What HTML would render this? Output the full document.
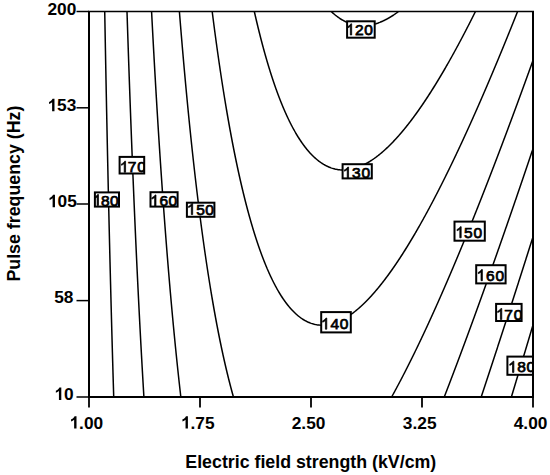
<!DOCTYPE html>
<html><head><meta charset="utf-8"><style>
html,body{margin:0;padding:0;background:#fff;}
body{width:550px;height:475px;overflow:hidden;}
svg{display:block;}
.tl{font-family:"Liberation Sans",sans-serif;font-weight:bold;font-size:17.3px;fill:#000;}
.cl{font-family:"Liberation Sans",sans-serif;font-weight:normal;font-size:15.5px;fill:#000;stroke:#000;stroke-width:0.75px;}
.ti{font-family:"Liberation Sans",sans-serif;font-weight:bold;font-size:17.8px;fill:#000;}
</style></head><body>
<svg width="550" height="475" viewBox="0 0 550 475">
<g fill="none" stroke="#000" stroke-width="1.5">
<path d="M331.22,11.50 L331.75,12.00 L332.25,12.46 L332.75,12.91 L333.25,13.35 L333.75,13.79 L334.29,14.25 L334.89,14.75 L335.50,15.25 L336.00,15.64 L336.50,16.03 L337.12,16.50 L337.75,16.96 L338.25,17.32 L338.86,17.75 L339.50,18.19 L340.00,18.52 L340.75,19.00 L341.25,19.31 L341.98,19.75 L342.50,20.05 L343.25,20.47 L343.76,20.75 L344.50,21.14 L345.22,21.50 L345.75,21.76 L346.50,22.10 L347.25,22.43 L348.00,22.75 L348.63,23.00 L349.29,23.25 L350.00,23.50 L350.75,23.76 L351.52,24.00 L352.37,24.25 L353.25,24.49 L354.00,24.67 L354.75,24.84 L355.52,25.00 L356.50,25.18 L357.25,25.30 L358.25,25.43 L359.00,25.51 L360.00,25.60 L361.00,25.67 L362.00,25.70 L363.00,25.71 L364.00,25.70 L365.00,25.66 L366.00,25.60 L367.00,25.51 L367.75,25.43 L368.75,25.30 L369.50,25.19 L370.50,25.02 L371.25,24.87 L372.00,24.72 L372.95,24.50 L373.75,24.30 L374.50,24.10 L375.25,23.89 L376.00,23.67 L376.75,23.43 L377.50,23.18 L378.25,22.92 L379.00,22.64 L379.75,22.36 L380.50,22.06 L381.25,21.75 L381.84,21.50 L382.50,21.21 L383.25,20.87 L384.00,20.52 L384.55,20.25 L385.25,19.90 L386.00,19.52 L386.52,19.25 L387.25,18.86 L387.90,18.50 L388.50,18.16 L389.22,17.75 L389.75,17.44 L390.48,17.00 L391.00,16.68 L391.70,16.25 L392.25,15.90 L392.87,15.50 L393.50,15.09 L394.00,14.75 L394.74,14.25 L395.25,13.90 L395.82,13.50 L396.50,13.01 L397.00,12.65 L397.55,12.25 L398.22,11.75 L398.55,11.50"/>
<path d="M254.32,11.50 L254.50,12.29 L254.72,13.25 L254.89,14.00 L255.06,14.75 L255.25,15.57 L255.46,16.50 L255.64,17.25 L255.81,18.00 L256.00,18.81 L256.22,19.75 L256.40,20.50 L256.57,21.25 L256.75,22.00 L256.99,23.00 L257.17,23.75 L257.35,24.50 L257.53,25.25 L257.75,26.17 L257.95,27.00 L258.13,27.75 L258.32,28.50 L258.50,29.25 L258.75,30.25 L258.93,31.00 L259.12,31.75 L259.31,32.50 L259.50,33.27 L259.75,34.25 L259.94,35.00 L260.13,35.75 L260.32,36.50 L260.51,37.25 L260.75,38.19 L260.96,39.00 L261.15,39.75 L261.35,40.50 L261.54,41.25 L261.75,42.04 L262.00,42.99 L262.20,43.75 L262.40,44.50 L262.60,45.25 L262.80,46.00 L263.00,46.75 L263.25,47.66 L263.48,48.50 L263.68,49.25 L263.89,50.00 L264.09,50.75 L264.30,51.50 L264.51,52.25 L264.75,53.11 L265.00,54.00 L265.21,54.75 L265.42,55.50 L265.64,56.25 L265.85,57.00 L266.06,57.75 L266.28,58.50 L266.50,59.26 L266.75,60.12 L267.00,60.97 L267.23,61.75 L267.45,62.50 L267.67,63.25 L267.90,64.00 L268.12,64.75 L268.35,65.50 L268.57,66.25 L268.80,67.00 L269.03,67.75 L269.26,68.50 L269.50,69.28 L269.75,70.09 L270.00,70.89 L270.25,71.69 L270.50,72.48 L270.74,73.25 L270.98,74.00 L271.22,74.75 L271.46,75.50 L271.71,76.25 L271.95,77.00 L272.20,77.75 L272.44,78.50 L272.69,79.25 L272.94,80.00 L273.19,80.75 L273.44,81.50 L273.70,82.25 L273.95,83.00 L274.21,83.75 L274.46,84.50 L274.72,85.25 L274.98,86.00 L275.25,86.75 L275.50,87.47 L275.75,88.18 L276.00,88.88 L276.25,89.58 L276.50,90.28 L276.76,91.00 L277.03,91.75 L277.31,92.50 L277.59,93.25 L277.86,94.00 L278.14,94.75 L278.43,95.50 L278.71,96.25 L278.99,97.00 L279.25,97.67 L279.50,98.32 L279.77,99.00 L280.06,99.75 L280.35,100.50 L280.65,101.25 L280.95,102.00 L281.25,102.75 L281.50,103.37 L281.75,104.00 L282.06,104.75 L282.37,105.50 L282.68,106.25 L282.99,107.00 L283.25,107.61 L283.52,108.25 L283.84,109.00 L284.16,109.75 L284.49,110.50 L284.75,111.10 L285.04,111.75 L285.37,112.50 L285.70,113.25 L286.00,113.91 L286.27,114.50 L286.61,115.25 L286.95,116.00 L287.25,116.64 L287.53,117.25 L287.89,118.00 L288.24,118.75 L288.50,119.28 L288.85,120.00 L289.21,120.75 L289.50,121.34 L289.83,122.00 L290.20,122.75 L290.50,123.34 L290.83,124.00 L291.22,124.75 L291.50,125.29 L291.87,126.00 L292.25,126.73 L292.53,127.25 L292.93,128.00 L293.25,128.59 L293.61,129.25 L294.00,129.95 L294.30,130.50 L294.73,131.25 L295.01,131.75 L295.44,132.50 L295.75,133.03 L296.17,133.75 L296.50,134.31 L296.91,135.00 L297.25,135.56 L297.67,136.25 L298.00,136.78 L298.45,137.50 L298.77,138.00 L299.25,138.75 L299.57,139.25 L300.00,139.91 L300.39,140.50 L300.75,141.03 L301.24,141.75 L301.58,142.25 L302.00,142.86 L302.45,143.50 L302.81,144.00 L303.25,144.61 L303.72,145.25 L304.09,145.75 L304.50,146.29 L305.00,146.95 L305.43,147.50 L305.82,148.00 L306.25,148.54 L306.75,149.16 L307.23,149.75 L307.65,150.25 L308.08,150.75 L308.50,151.25 L309.00,151.82 L309.50,152.38 L310.00,152.93 L310.50,153.47 L310.99,154.00 L311.47,154.50 L311.96,155.00 L312.45,155.50 L312.96,156.00 L313.48,156.50 L314.00,157.00 L314.50,157.46 L315.00,157.92 L315.50,158.36 L316.00,158.80 L316.53,159.25 L317.13,159.75 L317.74,160.25 L318.25,160.65 L318.75,161.04 L319.36,161.50 L320.00,161.97 L320.50,162.32 L321.12,162.75 L321.75,163.17 L322.25,163.50 L323.00,163.97 L323.50,164.28 L324.25,164.72 L324.75,165.00 L325.50,165.41 L326.16,165.75 L326.75,166.05 L327.50,166.41 L328.25,166.75 L328.83,167.00 L329.50,167.28 L330.25,167.57 L331.00,167.85 L331.75,168.11 L332.50,168.35 L333.25,168.58 L334.00,168.78 L334.86,169.00 L335.75,169.20 L336.50,169.36 L337.30,169.50 L338.25,169.65 L339.04,169.75 L340.00,169.85 L341.00,169.93 L342.00,169.98 L342.75,170.00 L343.75,170.00 L344.50,169.99 L345.50,169.95 L346.50,169.88 L347.50,169.78 L348.25,169.69 L349.25,169.55 L350.00,169.43 L350.96,169.25 L351.75,169.09 L352.50,168.92 L353.25,168.74 L354.15,168.50 L355.00,168.26 L355.75,168.03 L356.50,167.79 L357.25,167.54 L358.00,167.27 L358.72,167.00 L359.36,166.75 L360.00,166.49 L360.75,166.18 L361.50,165.85 L362.25,165.51 L362.82,165.25 L363.50,164.92 L364.25,164.55 L364.84,164.25 L365.50,163.90 L366.25,163.50 L366.75,163.22 L367.50,162.80 L368.02,162.50 L368.75,162.07 L369.27,161.75 L370.00,161.30 L370.50,160.99 L371.25,160.50 L371.75,160.18 L372.39,159.75 L373.00,159.34 L373.50,158.99 L374.20,158.50 L374.75,158.11 L375.25,157.75 L375.92,157.25 L376.50,156.82 L377.00,156.44 L377.57,156.00 L378.21,155.50 L378.75,155.08 L379.25,154.68 L379.78,154.25 L380.39,153.75 L380.99,153.25 L381.50,152.82 L382.00,152.39 L382.50,151.96 L383.03,151.50 L383.60,151.00 L384.16,150.50 L384.72,150.00 L385.25,149.52 L385.75,149.06 L386.25,148.60 L386.75,148.13 L387.25,147.66 L387.75,147.18 L388.25,146.70 L388.75,146.22 L389.25,145.73 L389.75,145.23 L390.25,144.74 L390.75,144.23 L391.25,143.73 L391.75,143.22 L392.25,142.70 L392.75,142.19 L393.25,141.66 L393.75,141.14 L394.25,140.61 L394.75,140.07 L395.25,139.53 L395.74,139.00 L396.20,138.50 L396.65,138.00 L397.11,137.50 L397.55,137.00 L398.00,136.50 L398.50,135.94 L399.00,135.37 L399.50,134.80 L399.97,134.25 L400.41,133.75 L400.84,133.25 L401.26,132.75 L401.75,132.18 L402.25,131.58 L402.74,131.00 L403.15,130.50 L403.57,130.00 L404.00,129.48 L404.50,128.87 L405.00,128.25 L405.41,127.75 L405.81,127.25 L406.25,126.70 L406.75,126.08 L407.21,125.50 L407.60,125.00 L408.00,124.50 L408.50,123.86 L408.97,123.25 L409.36,122.75 L409.75,122.25 L410.25,121.60 L410.71,121.00 L411.09,120.50 L411.50,119.95 L412.00,119.29 L412.41,118.75 L412.78,118.25 L413.25,117.62 L413.71,117.00 L414.08,116.50 L414.50,115.92 L414.99,115.25 L415.36,114.75 L415.75,114.21 L416.25,113.52 L416.62,113.00 L417.00,112.47 L417.50,111.77 L417.87,111.25 L418.25,110.71 L418.75,110.01 L419.11,109.50 L419.50,108.94 L419.98,108.25 L420.33,107.75 L420.75,107.14 L421.19,106.50 L421.54,106.00 L422.00,105.32 L422.39,104.75 L422.75,104.22 L423.24,103.50 L423.58,103.00 L424.00,102.37 L424.42,101.75 L424.75,101.25 L425.25,100.51 L425.59,100.00 L426.00,99.38 L426.41,98.75 L426.75,98.24 L427.23,97.50 L427.56,97.00 L428.00,96.33 L428.38,95.75 L428.75,95.17 L429.18,94.50 L429.51,94.00 L429.99,93.25 L430.31,92.75 L430.75,92.06 L431.11,91.50 L431.50,90.88 L431.90,90.25 L432.25,89.69 L432.69,89.00 L433.00,88.50 L433.47,87.75 L433.78,87.25 L434.25,86.50 L434.56,86.00 L435.00,85.29 L435.33,84.75 L435.75,84.07 L436.10,83.50 L436.50,82.85 L436.87,82.25 L437.25,81.62 L437.63,81.00 L438.00,80.39 L438.38,79.75 L438.75,79.14 L439.14,78.50 L439.50,77.90 L439.89,77.25 L440.25,76.64 L440.63,76.00 L441.00,75.38 L441.38,74.75 L441.75,74.12 L442.11,73.50 L442.50,72.85 L442.85,72.25 L443.25,71.57 L443.58,71.00 L444.00,70.28 L444.31,69.75 L444.75,69.00 L445.04,68.50 L445.47,67.75 L445.76,67.25 L446.19,66.50 L446.50,65.96 L446.91,65.25 L447.25,64.65 L447.62,64.00 L448.00,63.34 L448.33,62.75 L448.75,62.02 L449.04,61.50 L449.47,60.75 L449.75,60.25 L450.17,59.50 L450.50,58.91 L450.87,58.25 L451.25,57.57 L451.57,57.00 L451.99,56.25 L452.27,55.75 L452.68,55.00 L453.00,54.42 L453.37,53.75 L453.75,53.07 L454.06,52.50 L454.47,51.75 L454.75,51.25 L455.16,50.50 L455.50,49.88 L455.84,49.25 L456.25,48.50 L456.52,48.00 L456.93,47.25 L457.25,46.66 L457.60,46.00 L458.00,45.27 L458.28,44.75 L458.68,44.00 L459.00,43.41 L459.35,42.75 L459.75,42.00 L460.02,41.50 L460.42,40.75 L460.75,40.13 L461.08,39.50 L461.48,38.75 L461.75,38.24 L462.14,37.50 L462.50,36.82 L462.80,36.25 L463.20,35.50 L463.50,34.92 L463.85,34.25 L464.24,33.50 L464.50,33.00 L464.90,32.25 L465.25,31.57 L465.55,31.00 L465.94,30.25 L466.25,29.64 L466.58,29.00 L466.97,28.25 L467.25,27.71 L467.61,27.00 L468.00,26.25 L468.26,25.75 L468.64,25.00 L469.00,24.30 L469.28,23.75 L469.66,23.00 L470.00,22.34 L470.30,21.75 L470.68,21.00 L471.00,20.37 L471.31,19.75 L471.69,19.00 L472.00,18.39 L472.33,17.75 L472.70,17.00 L473.00,16.41 L473.33,15.75 L473.71,15.00 L474.00,14.42 L474.33,13.75 L474.71,13.00 L475.00,12.41 L475.33,11.75 L475.45,11.50"/>
<path d="M212.19,11.50 L212.28,12.25 L212.41,13.25 L212.51,14.00 L212.63,15.00 L212.75,15.92 L212.86,16.75 L212.98,17.75 L213.08,18.50 L213.21,19.50 L213.31,20.25 L213.44,21.25 L213.53,22.00 L213.66,23.00 L213.76,23.75 L213.89,24.75 L214.00,25.59 L214.12,26.50 L214.25,27.49 L214.35,28.25 L214.48,29.25 L214.58,30.00 L214.71,31.00 L214.81,31.75 L214.95,32.75 L215.05,33.50 L215.18,34.50 L215.28,35.25 L215.42,36.25 L215.52,37.00 L215.65,38.00 L215.76,38.75 L215.89,39.75 L216.00,40.55 L216.13,41.50 L216.25,42.37 L216.37,43.25 L216.50,44.19 L216.61,45.00 L216.75,46.00 L216.85,46.75 L216.99,47.75 L217.10,48.50 L217.24,49.50 L217.34,50.25 L217.48,51.25 L217.59,52.00 L217.73,53.00 L217.84,53.75 L217.98,54.75 L218.09,55.50 L218.23,56.50 L218.34,57.25 L218.48,58.25 L218.59,59.00 L218.73,60.00 L218.84,60.75 L218.99,61.75 L219.09,62.50 L219.24,63.50 L219.35,64.25 L219.50,65.25 L219.61,66.00 L219.75,66.97 L219.87,67.75 L220.00,68.66 L220.12,69.50 L220.25,70.34 L220.39,71.25 L220.50,72.01 L220.65,73.00 L220.76,73.75 L220.91,74.75 L221.03,75.50 L221.18,76.50 L221.29,77.25 L221.44,78.25 L221.56,79.00 L221.71,80.00 L221.83,80.75 L221.98,81.75 L222.10,82.50 L222.25,83.48 L222.37,84.25 L222.50,85.08 L222.64,86.00 L222.76,86.75 L222.92,87.75 L223.04,88.50 L223.20,89.50 L223.31,90.25 L223.47,91.25 L223.59,92.00 L223.75,92.98 L223.87,93.75 L224.00,94.53 L224.16,95.50 L224.28,96.25 L224.44,97.25 L224.56,98.00 L224.73,99.00 L224.85,99.75 L225.00,100.67 L225.14,101.50 L225.26,102.25 L225.43,103.25 L225.55,104.00 L225.72,105.00 L225.84,105.75 L226.00,106.68 L226.14,107.50 L226.26,108.25 L226.43,109.25 L226.56,110.00 L226.73,111.00 L226.86,111.75 L227.00,112.57 L227.16,113.50 L227.29,114.25 L227.46,115.25 L227.59,116.00 L227.75,116.91 L227.90,117.75 L228.03,118.50 L228.20,119.50 L228.34,120.25 L228.50,121.18 L228.65,122.00 L228.78,122.75 L228.96,123.75 L229.09,124.50 L229.25,125.38 L229.41,126.25 L229.54,127.00 L229.72,128.00 L229.86,128.75 L230.00,129.52 L230.18,130.50 L230.32,131.25 L230.50,132.24 L230.64,133.00 L230.78,133.75 L230.97,134.75 L231.11,135.50 L231.25,136.27 L231.44,137.25 L231.58,138.00 L231.75,138.92 L231.91,139.75 L232.05,140.50 L232.24,141.50 L232.39,142.25 L232.53,143.00 L232.72,144.00 L232.87,144.75 L233.02,145.50 L233.21,146.50 L233.36,147.25 L233.50,148.00 L233.70,149.00 L233.85,149.75 L234.00,150.50 L234.20,151.50 L234.35,152.25 L234.50,153.01 L234.70,154.00 L234.85,154.75 L235.00,155.50 L235.21,156.50 L235.36,157.25 L235.51,158.00 L235.72,159.00 L235.88,159.75 L236.03,160.50 L236.24,161.50 L236.40,162.25 L236.55,163.00 L236.75,163.94 L236.92,164.75 L237.08,165.50 L237.25,166.30 L237.45,167.25 L237.61,168.00 L237.78,168.75 L237.99,169.75 L238.15,170.50 L238.32,171.25 L238.50,172.08 L238.70,173.00 L238.87,173.75 L239.03,174.50 L239.25,175.48 L239.42,176.25 L239.59,177.00 L239.76,177.75 L239.98,178.75 L240.15,179.50 L240.32,180.25 L240.50,181.03 L240.72,182.00 L240.90,182.75 L241.07,183.50 L241.25,184.28 L241.48,185.25 L241.65,186.00 L241.83,186.75 L242.00,187.50 L242.24,188.50 L242.42,189.25 L242.60,190.00 L242.78,190.75 L243.00,191.67 L243.20,192.50 L243.38,193.25 L243.57,194.00 L243.75,194.75 L244.00,195.75 L244.18,196.50 L244.37,197.25 L244.55,198.00 L244.75,198.78 L244.99,199.75 L245.18,200.50 L245.37,201.25 L245.56,202.00 L245.76,202.75 L246.00,203.70 L246.21,204.50 L246.40,205.25 L246.60,206.00 L246.79,206.75 L247.00,207.54 L247.25,208.48 L247.45,209.25 L247.65,210.00 L247.86,210.75 L248.06,211.50 L248.26,212.25 L248.50,213.13 L248.74,214.00 L248.94,214.75 L249.15,215.50 L249.36,216.25 L249.57,217.00 L249.78,217.75 L250.00,218.54 L250.25,219.42 L250.48,220.25 L250.70,221.00 L250.91,221.75 L251.13,222.50 L251.35,223.25 L251.57,224.00 L251.79,224.75 L252.01,225.50 L252.25,226.32 L252.50,227.16 L252.75,227.99 L252.98,228.75 L253.21,229.50 L253.43,230.25 L253.66,231.00 L253.89,231.75 L254.13,232.50 L254.36,233.25 L254.59,234.00 L254.83,234.75 L255.07,235.50 L255.30,236.25 L255.54,237.00 L255.79,237.75 L256.03,238.50 L256.27,239.25 L256.52,240.00 L256.76,240.75 L257.01,241.50 L257.26,242.25 L257.51,243.00 L257.77,243.75 L258.02,244.50 L258.27,245.25 L258.53,246.00 L258.79,246.75 L259.05,247.50 L259.31,248.25 L259.58,249.00 L259.84,249.75 L260.11,250.50 L260.38,251.25 L260.65,252.00 L260.92,252.75 L261.20,253.50 L261.47,254.25 L261.75,254.99 L262.00,255.66 L262.25,256.33 L262.50,257.00 L262.79,257.75 L263.08,258.50 L263.37,259.25 L263.66,260.00 L263.95,260.75 L264.25,261.50 L264.50,262.14 L264.75,262.76 L265.05,263.50 L265.35,264.25 L265.66,265.00 L265.97,265.75 L266.25,266.43 L266.50,267.02 L266.81,267.75 L267.12,268.50 L267.45,269.25 L267.75,269.96 L268.00,270.53 L268.32,271.25 L268.65,272.00 L268.98,272.75 L269.25,273.35 L269.55,274.00 L269.89,274.75 L270.23,275.50 L270.50,276.07 L270.82,276.75 L271.17,277.50 L271.50,278.19 L271.77,278.75 L272.14,279.50 L272.50,280.24 L272.75,280.75 L273.13,281.50 L273.50,282.24 L273.76,282.75 L274.14,283.50 L274.50,284.19 L274.79,284.75 L275.19,285.50 L275.50,286.08 L275.86,286.75 L276.25,287.46 L276.55,288.00 L276.96,288.75 L277.25,289.26 L277.67,290.00 L278.00,290.57 L278.39,291.25 L278.75,291.85 L279.13,292.50 L279.50,293.11 L279.89,293.75 L280.25,294.34 L280.66,295.00 L281.00,295.53 L281.46,296.25 L281.78,296.75 L282.25,297.47 L282.60,298.00 L283.00,298.59 L283.45,299.25 L283.79,299.75 L284.25,300.40 L284.67,301.00 L285.03,301.50 L285.50,302.14 L285.95,302.75 L286.33,303.25 L286.75,303.81 L287.25,304.45 L287.68,305.00 L288.08,305.50 L288.50,306.02 L289.00,306.63 L289.50,307.22 L289.95,307.75 L290.39,308.25 L290.83,308.75 L291.28,309.25 L291.75,309.76 L292.25,310.30 L292.75,310.82 L293.25,311.34 L293.75,311.84 L294.25,312.34 L294.75,312.82 L295.25,313.29 L295.75,313.75 L296.30,314.25 L296.87,314.75 L297.45,315.25 L298.00,315.71 L298.50,316.12 L299.00,316.51 L299.63,317.00 L300.25,317.46 L300.75,317.83 L301.35,318.25 L302.00,318.70 L302.50,319.03 L303.24,319.50 L303.75,319.81 L304.49,320.25 L305.00,320.54 L305.75,320.95 L306.32,321.25 L307.00,321.59 L307.75,321.95 L308.42,322.25 L309.00,322.50 L309.75,322.81 L310.50,323.09 L311.25,323.36 L312.00,323.61 L312.75,323.84 L313.50,324.05 L314.28,324.25 L315.25,324.47 L316.00,324.62 L316.75,324.76 L317.75,324.91 L318.50,325.00 L319.50,325.10 L320.50,325.17 L321.50,325.21 L322.50,325.21 L323.50,325.19 L324.50,325.14 L325.50,325.07 L326.25,324.99 L327.25,324.86 L328.01,324.75 L329.00,324.58 L329.75,324.43 L330.56,324.25 L331.50,324.02 L332.25,323.83 L333.00,323.61 L333.75,323.39 L334.50,323.14 L335.25,322.89 L336.00,322.62 L336.75,322.33 L337.50,322.04 L338.19,321.75 L338.77,321.50 L339.50,321.18 L340.25,320.83 L340.93,320.50 L341.50,320.22 L342.25,319.84 L342.89,319.50 L343.50,319.17 L344.25,318.75 L344.75,318.47 L345.50,318.03 L346.00,317.73 L346.75,317.27 L347.25,316.96 L347.96,316.50 L348.50,316.15 L349.10,315.75 L349.75,315.31 L350.25,314.96 L350.91,314.50 L351.50,314.07 L352.00,313.71 L352.62,313.25 L353.25,312.78 L353.75,312.39 L354.26,312.00 L354.89,311.50 L355.50,311.02 L356.00,310.61 L356.50,310.20 L357.04,309.75 L357.64,309.25 L358.22,308.75 L358.75,308.29 L359.25,307.86 L359.75,307.41 L360.25,306.97 L360.77,306.50 L361.31,306.00 L361.85,305.50 L362.39,305.00 L362.92,304.50 L363.44,304.00 L363.96,303.50 L364.48,303.00 L364.98,302.50 L365.49,302.00 L365.99,301.50 L366.48,301.00 L366.97,300.50 L367.46,300.00 L367.94,299.50 L368.42,299.00 L368.90,298.50 L369.37,298.00 L369.83,297.50 L370.30,297.00 L370.76,296.50 L371.25,295.96 L371.75,295.41 L372.25,294.86 L372.75,294.30 L373.23,293.75 L373.67,293.25 L374.11,292.75 L374.55,292.25 L375.00,291.73 L375.50,291.14 L376.00,290.56 L376.47,290.00 L376.89,289.50 L377.31,289.00 L377.75,288.47 L378.25,287.87 L378.75,287.26 L379.16,286.75 L379.57,286.25 L380.00,285.72 L380.50,285.09 L380.97,284.50 L381.37,284.00 L381.77,283.50 L382.25,282.88 L382.74,282.25 L383.13,281.75 L383.52,281.25 L384.00,280.62 L384.48,280.00 L384.86,279.50 L385.25,278.98 L385.75,278.32 L386.18,277.75 L386.55,277.25 L387.00,276.65 L387.48,276.00 L387.85,275.50 L388.25,274.95 L388.75,274.26 L389.12,273.75 L389.50,273.23 L390.00,272.54 L390.38,272.00 L390.75,271.49 L391.25,270.78 L391.63,270.25 L392.00,269.72 L392.50,269.01 L392.86,268.50 L393.25,267.94 L393.73,267.25 L394.07,266.75 L394.50,266.13 L394.93,265.50 L395.27,265.00 L395.75,264.30 L396.12,263.75 L396.50,263.19 L396.97,262.50 L397.30,262.00 L397.75,261.33 L398.13,260.75 L398.50,260.20 L398.96,259.50 L399.29,259.00 L399.75,258.30 L400.11,257.75 L400.50,257.16 L400.93,256.50 L401.25,256.00 L401.73,255.25 L402.06,254.75 L402.50,254.06 L402.86,253.50 L403.25,252.88 L403.65,252.25 L404.00,251.70 L404.44,251.00 L404.76,250.50 L405.23,249.75 L405.54,249.25 L406.00,248.52 L406.32,248.00 L406.75,247.31 L407.10,246.75 L407.50,246.10 L407.87,245.50 L408.25,244.88 L408.63,244.25 L409.00,243.65 L409.39,243.00 L409.75,242.41 L410.15,241.75 L410.50,241.17 L410.90,240.50 L411.25,239.92 L411.65,239.25 L412.00,238.67 L412.40,238.00 L412.75,237.41 L413.14,236.75 L413.50,236.14 L413.88,235.50 L414.25,234.87 L414.61,234.25 L415.00,233.59 L415.34,233.00 L415.75,232.30 L416.07,231.75 L416.50,231.00 L416.79,230.50 L417.22,229.75 L417.51,229.25 L417.94,228.50 L418.25,227.96 L418.66,227.25 L419.00,226.65 L419.37,226.00 L419.75,225.33 L420.08,224.75 L420.50,224.00 L420.78,223.50 L421.20,222.75 L421.50,222.22 L421.90,221.50 L422.25,220.88 L422.60,220.25 L423.00,219.53 L423.29,219.00 L423.71,218.25 L424.00,217.73 L424.40,217.00 L424.75,216.36 L425.09,215.75 L425.50,215.00 L425.77,214.50 L426.18,213.75 L426.50,213.16 L426.86,212.50 L427.25,211.78 L427.54,211.25 L427.94,210.50 L428.25,209.93 L428.62,209.25 L429.00,208.54 L429.29,208.00 L429.69,207.25 L430.00,206.67 L430.36,206.00 L430.75,205.26 L431.02,204.75 L431.42,204.00 L431.75,203.38 L432.08,202.75 L432.48,202.00 L432.75,201.48 L433.13,200.75 L433.50,200.05 L433.79,199.50 L434.18,198.75 L434.50,198.14 L434.83,197.50 L435.22,196.75 L435.50,196.22 L435.87,195.50 L436.25,194.77 L436.52,194.25 L436.91,193.50 L437.25,192.83 L437.55,192.25 L437.93,191.50 L438.25,190.88 L438.57,190.25 L438.96,189.50 L439.25,188.92 L439.59,188.25 L439.97,187.50 L440.25,186.96 L440.61,186.25 L440.99,185.50 L441.25,184.98 L441.62,184.25 L442.00,183.50 L442.25,182.99 L442.62,182.25 L443.00,181.50 L443.25,181.00 L443.62,180.25 L444.00,179.50 L444.25,179.00 L444.62,178.25 L444.99,177.50 L445.25,176.98 L445.61,176.25 L445.98,175.50 L446.25,174.96 L446.60,174.25 L446.97,173.50 L447.25,172.93 L447.58,172.25 L447.95,171.50 L448.25,170.89 L448.56,170.25 L448.93,169.50 L449.25,168.84 L449.54,168.25 L449.90,167.50 L450.25,166.79 L450.51,166.25 L450.87,165.50 L451.24,164.75 L451.50,164.20 L451.84,163.50 L452.20,162.75 L452.50,162.13 L452.80,161.50 L453.16,160.75 L453.50,160.04 L453.76,159.50 L454.12,158.75 L454.48,158.00 L454.75,157.42 L455.07,156.75 L455.43,156.00 L455.75,155.32 L456.02,154.75 L456.38,154.00 L456.73,153.25 L457.00,152.68 L457.32,152.00 L457.67,151.25 L458.00,150.56 L458.26,150.00 L458.62,149.25 L458.97,148.50 L459.25,147.90 L459.55,147.25 L459.90,146.50 L460.25,145.76 L460.50,145.22 L460.84,144.50 L461.18,143.75 L461.50,143.07 L461.77,142.50 L462.11,141.75 L462.46,141.00 L462.75,140.37 L463.04,139.75 L463.38,139.00 L463.73,138.25 L464.00,137.66 L464.31,137.00 L464.65,136.25 L464.99,135.50 L465.25,134.94 L465.57,134.25 L465.91,133.50 L466.25,132.76 L466.50,132.21 L466.82,131.50 L467.16,130.75 L467.50,130.01 L467.75,129.46 L468.07,128.75 L468.41,128.00 L468.75,127.26 L469.00,126.71 L469.32,126.00 L469.66,125.25 L470.00,124.50 L470.25,123.94 L470.56,123.25 L470.90,122.50 L471.23,121.75 L471.50,121.16 L471.79,120.50 L472.13,119.75 L472.47,119.00 L472.75,118.36 L473.02,117.75 L473.36,117.00 L473.69,116.25 L474.00,115.56 L474.25,115.00 L474.58,114.25 L474.92,113.50 L475.25,112.75 L475.50,112.18 L475.80,111.50 L476.13,110.75 L476.47,110.00 L476.75,109.36 L477.02,108.75 L477.35,108.00 L477.68,107.25 L478.00,106.52 L478.25,105.95 L478.56,105.25 L478.89,104.50 L479.21,103.75 L479.50,103.10 L479.76,102.50 L480.09,101.75 L480.42,101.00 L480.74,100.25 L481.00,99.66 L481.29,99.00 L481.61,98.25 L481.94,97.50 L482.25,96.79 L482.50,96.21 L482.81,95.50 L483.13,94.75 L483.46,94.00 L483.75,93.32 L484.00,92.74 L484.32,92.00 L484.64,91.25 L484.97,90.50 L485.25,89.84 L485.51,89.25 L485.83,88.50 L486.15,87.75 L486.47,87.00 L486.75,86.35 L487.01,85.75 L487.33,85.00 L487.65,84.25 L487.97,83.50 L488.25,82.84 L488.50,82.25 L488.82,81.50 L489.14,80.75 L489.46,80.00 L489.75,79.32 L490.00,78.73 L490.31,78.00 L490.63,77.25 L490.95,76.50 L491.25,75.78 L491.50,75.19 L491.79,74.50 L492.11,73.75 L492.43,73.00 L492.74,72.25 L493.00,71.64 L493.27,71.00 L493.58,70.25 L493.90,69.50 L494.21,68.75 L494.50,68.07 L494.75,67.48 L495.05,66.75 L495.37,66.00 L495.68,65.25 L496.00,64.50 L496.25,63.89 L496.52,63.25 L496.83,62.50 L497.14,61.75 L497.46,61.00 L497.75,60.29 L498.00,59.69 L498.29,59.00 L498.60,58.25 L498.91,57.50 L499.22,56.75 L499.50,56.08 L499.75,55.48 L500.05,54.75 L500.36,54.00 L500.67,53.25 L500.98,52.50 L501.25,51.85 L501.50,51.24 L501.81,50.50 L502.11,49.75 L502.42,49.00 L502.73,48.25 L503.00,47.60 L503.25,46.99 L503.55,46.25 L503.86,45.50 L504.17,44.75 L504.48,44.00 L504.75,43.33 L505.00,42.72 L505.29,42.00 L505.60,41.25 L505.91,40.50 L506.21,39.75 L506.50,39.04 L506.75,38.43 L507.03,37.75 L507.33,37.00 L507.64,36.25 L507.94,35.50 L508.25,34.75 L508.50,34.13 L508.75,33.50 L509.06,32.75 L509.36,32.00 L509.66,31.25 L509.97,30.50 L510.25,29.80 L510.50,29.18 L510.78,28.50 L511.08,27.75 L511.38,27.00 L511.68,26.25 L511.99,25.50 L512.25,24.84 L512.50,24.22 L512.79,23.50 L513.09,22.75 L513.39,22.00 L513.69,21.25 L513.99,20.50 L514.25,19.86 L514.50,19.24 L514.79,18.50 L515.09,17.75 L515.39,17.00 L515.69,16.25 L515.99,15.50 L516.25,14.86 L516.50,14.23 L516.79,13.50 L517.09,12.75 L517.39,12.00 L517.59,11.50"/>
<path d="M179.39,11.50 L179.47,12.50 L179.53,13.25 L179.61,14.25 L179.69,15.25 L179.75,16.00 L179.83,17.00 L179.91,18.00 L180.00,19.00 L180.06,19.75 L180.14,20.75 L180.22,21.75 L180.28,22.50 L180.36,23.50 L180.44,24.50 L180.50,25.25 L180.59,26.25 L180.67,27.25 L180.75,28.23 L180.81,29.00 L180.90,30.00 L180.98,31.00 L181.04,31.75 L181.12,32.75 L181.21,33.75 L181.27,34.50 L181.35,35.50 L181.44,36.50 L181.50,37.25 L181.58,38.25 L181.67,39.25 L181.75,40.22 L181.82,41.00 L181.90,42.00 L181.99,43.00 L182.05,43.75 L182.13,44.75 L182.22,45.75 L182.28,46.50 L182.37,47.50 L182.46,48.50 L182.52,49.25 L182.61,50.25 L182.69,51.25 L182.76,52.00 L182.84,53.00 L182.93,54.00 L183.00,54.80 L183.08,55.75 L183.17,56.75 L183.25,57.66 L183.32,58.50 L183.41,59.50 L183.50,60.50 L183.56,61.25 L183.65,62.25 L183.74,63.25 L183.81,64.00 L183.90,65.00 L183.99,66.00 L184.05,66.75 L184.14,67.75 L184.23,68.75 L184.30,69.50 L184.39,70.50 L184.48,71.50 L184.55,72.25 L184.64,73.25 L184.73,74.25 L184.80,75.00 L184.89,76.00 L184.98,77.00 L185.05,77.75 L185.14,78.75 L185.23,79.75 L185.30,80.50 L185.39,81.50 L185.48,82.50 L185.55,83.25 L185.64,84.25 L185.74,85.25 L185.81,86.00 L185.90,87.00 L185.99,88.00 L186.06,88.75 L186.16,89.75 L186.25,90.75 L186.32,91.50 L186.41,92.50 L186.50,93.41 L186.58,94.25 L186.67,95.25 L186.75,96.05 L186.84,97.00 L186.94,98.00 L187.01,98.75 L187.10,99.75 L187.20,100.75 L187.27,101.50 L187.37,102.50 L187.46,103.50 L187.54,104.25 L187.63,105.25 L187.73,106.25 L187.80,107.00 L187.90,108.00 L188.00,109.00 L188.07,109.75 L188.17,110.75 L188.25,111.56 L188.34,112.50 L188.44,113.50 L188.52,114.25 L188.61,115.25 L188.71,116.25 L188.79,117.00 L188.89,118.00 L188.99,119.00 L189.06,119.75 L189.16,120.75 L189.25,121.60 L189.34,122.50 L189.44,123.50 L189.52,124.25 L189.62,125.25 L189.72,126.25 L189.80,127.00 L189.90,128.00 L190.00,128.98 L190.08,129.75 L190.18,130.75 L190.26,131.50 L190.36,132.50 L190.47,133.50 L190.54,134.25 L190.65,135.25 L190.75,136.24 L190.83,137.00 L190.93,138.00 L191.01,138.75 L191.12,139.75 L191.22,140.75 L191.30,141.50 L191.41,142.50 L191.50,143.37 L191.59,144.25 L191.70,145.25 L191.78,146.00 L191.89,147.00 L191.99,148.00 L192.08,148.75 L192.18,149.75 L192.26,150.50 L192.37,151.50 L192.48,152.50 L192.56,153.25 L192.67,154.25 L192.75,155.00 L192.86,156.00 L192.97,157.00 L193.05,157.75 L193.16,158.75 L193.25,159.53 L193.36,160.50 L193.47,161.50 L193.55,162.25 L193.66,163.25 L193.75,164.03 L193.86,165.00 L193.97,166.00 L194.06,166.75 L194.17,167.75 L194.25,168.50 L194.37,169.50 L194.48,170.50 L194.57,171.25 L194.68,172.25 L194.76,173.00 L194.88,174.00 L194.99,175.00 L195.08,175.75 L195.20,176.75 L195.28,177.50 L195.40,178.50 L195.50,179.37 L195.60,180.25 L195.72,181.25 L195.81,182.00 L195.92,183.00 L196.01,183.75 L196.13,184.75 L196.25,185.75 L196.34,186.50 L196.46,187.50 L196.55,188.25 L196.67,189.25 L196.75,190.00 L196.87,191.00 L196.99,192.00 L197.09,192.75 L197.21,193.75 L197.30,194.50 L197.42,195.50 L197.51,196.25 L197.63,197.25 L197.75,198.22 L197.85,199.00 L197.97,200.00 L198.06,200.75 L198.19,201.75 L198.28,202.50 L198.40,203.50 L198.50,204.29 L198.62,205.25 L198.75,206.25 L198.84,207.00 L198.97,208.00 L199.06,208.75 L199.19,209.75 L199.28,210.50 L199.41,211.50 L199.50,212.25 L199.63,213.25 L199.75,214.17 L199.86,215.00 L199.98,216.00 L200.08,216.75 L200.21,217.75 L200.31,218.50 L200.44,219.50 L200.54,220.25 L200.67,221.25 L200.77,222.00 L200.90,223.00 L201.00,223.78 L201.13,224.75 L201.25,225.67 L201.36,226.50 L201.49,227.50 L201.59,228.25 L201.73,229.25 L201.83,230.00 L201.96,231.00 L202.06,231.75 L202.20,232.75 L202.30,233.50 L202.44,234.50 L202.54,235.25 L202.68,236.25 L202.78,237.00 L202.92,238.00 L203.02,238.75 L203.16,239.75 L203.26,240.50 L203.40,241.50 L203.51,242.25 L203.65,243.25 L203.75,244.00 L203.89,245.00 L204.00,245.76 L204.14,246.75 L204.25,247.52 L204.39,248.50 L204.50,249.28 L204.64,250.25 L204.75,251.02 L204.89,252.00 L205.00,252.76 L205.14,253.75 L205.25,254.50 L205.40,255.50 L205.51,256.25 L205.65,257.25 L205.76,258.00 L205.91,259.00 L206.02,259.75 L206.17,260.75 L206.28,261.50 L206.43,262.50 L206.54,263.25 L206.69,264.25 L206.81,265.00 L206.96,266.00 L207.07,266.75 L207.22,267.75 L207.34,268.50 L207.49,269.50 L207.60,270.25 L207.75,271.20 L207.87,272.00 L208.00,272.82 L208.14,273.75 L208.26,274.50 L208.42,275.50 L208.53,276.25 L208.69,277.25 L208.81,278.00 L208.97,279.00 L209.09,279.75 L209.25,280.75 L209.37,281.50 L209.50,282.34 L209.65,283.25 L209.77,284.00 L209.93,285.00 L210.05,285.75 L210.21,286.75 L210.33,287.50 L210.50,288.50 L210.62,289.25 L210.75,290.04 L210.91,291.00 L211.03,291.75 L211.20,292.75 L211.32,293.50 L211.49,294.50 L211.62,295.25 L211.75,296.03 L211.91,297.00 L212.04,297.75 L212.21,298.75 L212.34,299.50 L212.50,300.44 L212.64,301.25 L212.77,302.00 L212.94,303.00 L213.07,303.75 L213.25,304.75 L213.38,305.50 L213.51,306.25 L213.68,307.25 L213.82,308.00 L213.99,309.00 L214.13,309.75 L214.26,310.50 L214.44,311.50 L214.57,312.25 L214.75,313.23 L214.89,314.00 L215.03,314.75 L215.21,315.75 L215.35,316.50 L215.50,317.34 L215.67,318.25 L215.81,319.00 L215.99,320.00 L216.13,320.75 L216.27,321.50 L216.46,322.50 L216.60,323.25 L216.75,324.04 L216.93,325.00 L217.07,325.75 L217.25,326.67 L217.41,327.50 L217.55,328.25 L217.75,329.25 L217.89,330.00 L218.04,330.75 L218.23,331.75 L218.38,332.50 L218.53,333.25 L218.73,334.25 L218.87,335.00 L219.02,335.75 L219.22,336.75 L219.37,337.50 L219.53,338.25 L219.73,339.25 L219.88,340.00 L220.03,340.75 L220.24,341.75 L220.39,342.50 L220.55,343.25 L220.75,344.23 L220.91,345.00 L221.07,345.75 L221.25,346.63 L221.43,347.50 L221.59,348.25 L221.75,349.00 L221.96,350.00 L222.13,350.75 L222.29,351.50 L222.50,352.49 L222.67,353.25 L222.83,354.00 L223.00,354.79 L223.21,355.75 L223.38,356.50 L223.54,357.25 L223.75,358.18 L223.93,359.00 L224.10,359.75 L224.27,360.50 L224.50,361.50 L224.67,362.25 L224.84,363.00 L225.01,363.75 L225.24,364.75 L225.41,365.50 L225.59,366.25 L225.76,367.00 L226.00,368.00 L226.17,368.75 L226.35,369.50 L226.53,370.25 L226.75,371.17 L226.95,372.00 L227.13,372.75 L227.31,373.50 L227.50,374.28 L227.74,375.25 L227.92,376.00 L228.11,376.75 L228.29,377.50 L228.50,378.33 L228.73,379.25 L228.92,380.00 L229.11,380.75 L229.30,381.50 L229.50,382.29 L229.75,383.25 L229.94,384.00 L230.13,384.75 L230.33,385.50 L230.53,386.25 L230.75,387.10 L230.99,388.00 L231.19,388.75 L231.39,389.50 L231.59,390.25 L231.79,391.00 L232.00,391.77 L232.25,392.69 L232.47,393.50 L232.68,394.25 L232.89,395.00 L233.10,395.75 L233.31,396.50 L233.45,397.00"/>
<path d="M391.64,397.00 L392.00,396.34 L392.33,395.75 L392.74,395.00 L393.01,394.50 L393.43,393.75 L393.75,393.16 L394.11,392.50 L394.50,391.78 L394.79,391.25 L395.19,390.50 L395.50,389.93 L395.87,389.25 L396.25,388.54 L396.54,388.00 L396.94,387.25 L397.25,386.68 L397.61,386.00 L398.00,385.27 L398.28,384.75 L398.68,384.00 L399.00,383.39 L399.34,382.75 L399.73,382.00 L400.00,381.49 L400.39,380.75 L400.75,380.06 L401.04,379.50 L401.44,378.75 L401.75,378.15 L402.09,377.50 L402.48,376.75 L402.75,376.22 L403.12,375.50 L403.50,374.77 L403.77,374.25 L404.16,373.50 L404.50,372.83 L404.80,372.25 L405.18,371.50 L405.50,370.88 L405.82,370.25 L406.20,369.50 L406.50,368.91 L406.84,368.25 L407.22,367.50 L407.50,366.94 L407.85,366.25 L408.23,365.50 L408.50,364.95 L408.85,364.25 L409.23,363.50 L409.50,362.96 L409.85,362.25 L410.23,361.50 L410.50,360.96 L410.85,360.25 L411.22,359.50 L411.50,358.94 L411.84,358.25 L412.21,357.50 L412.50,356.92 L412.83,356.25 L413.20,355.50 L413.50,354.88 L413.81,354.25 L414.18,353.50 L414.50,352.84 L414.79,352.25 L415.15,351.50 L415.50,350.79 L415.76,350.25 L416.13,349.50 L416.49,348.75 L416.75,348.21 L417.09,347.50 L417.45,346.75 L417.75,346.14 L418.06,345.50 L418.42,344.75 L418.75,344.05 L419.02,343.50 L419.37,342.75 L419.73,342.00 L420.00,341.44 L420.33,340.75 L420.68,340.00 L421.00,339.33 L421.28,338.75 L421.63,338.00 L421.99,337.25 L422.25,336.69 L422.58,336.00 L422.93,335.25 L423.25,334.57 L423.52,334.00 L423.87,333.25 L424.22,332.50 L424.50,331.90 L424.80,331.25 L425.15,330.50 L425.50,329.76 L425.75,329.22 L426.09,328.50 L426.43,327.75 L426.75,327.07 L427.01,326.50 L427.36,325.75 L427.71,325.00 L428.00,324.36 L428.28,323.75 L428.63,323.00 L428.97,322.25 L429.25,321.65 L429.55,321.00 L429.89,320.25 L430.23,319.50 L430.50,318.91 L430.80,318.25 L431.15,317.50 L431.49,316.75 L431.75,316.17 L432.05,315.50 L432.39,314.75 L432.73,314.00 L433.00,313.41 L433.30,312.75 L433.64,312.00 L433.98,311.25 L434.25,310.64 L434.54,310.00 L434.88,309.25 L435.21,308.50 L435.50,307.86 L435.77,307.25 L436.11,306.50 L436.45,305.75 L436.75,305.07 L437.00,304.50 L437.34,303.75 L437.67,303.00 L438.00,302.26 L438.25,301.70 L438.56,301.00 L438.89,300.25 L439.22,299.50 L439.50,298.88 L439.78,298.25 L440.11,297.50 L440.44,296.75 L440.75,296.04 L441.00,295.48 L441.32,294.75 L441.65,294.00 L441.98,293.25 L442.25,292.63 L442.52,292.00 L442.85,291.25 L443.18,290.50 L443.50,289.77 L443.75,289.19 L444.05,288.50 L444.38,287.75 L444.71,287.00 L445.00,286.32 L445.25,285.74 L445.57,285.00 L445.90,284.25 L446.22,283.50 L446.50,282.86 L446.76,282.25 L447.09,281.50 L447.41,280.75 L447.73,280.00 L448.00,279.38 L448.27,278.75 L448.59,278.00 L448.91,277.25 L449.23,276.50 L449.50,275.88 L449.77,275.25 L450.09,274.50 L450.41,273.75 L450.73,273.00 L451.00,272.37 L451.26,271.75 L451.58,271.00 L451.90,270.25 L452.22,269.50 L452.50,268.84 L452.75,268.25 L453.07,267.50 L453.39,266.75 L453.70,266.00 L454.00,265.30 L454.25,264.70 L454.55,264.00 L454.86,263.25 L455.18,262.50 L455.49,261.75 L455.75,261.14 L456.02,260.50 L456.33,259.75 L456.65,259.00 L456.96,258.25 L457.25,257.57 L457.50,256.97 L457.80,256.25 L458.11,255.50 L458.43,254.75 L458.74,254.00 L459.00,253.37 L459.26,252.75 L459.57,252.00 L459.88,251.25 L460.19,250.50 L460.50,249.76 L460.75,249.16 L461.02,248.50 L461.33,247.75 L461.64,247.00 L461.95,246.25 L462.25,245.53 L462.50,244.93 L462.78,244.25 L463.09,243.50 L463.40,242.75 L463.71,242.00 L464.00,241.28 L464.25,240.68 L464.53,240.00 L464.84,239.25 L465.14,238.50 L465.45,237.75 L465.75,237.02 L466.00,236.40 L466.27,235.75 L466.57,235.00 L466.88,234.25 L467.19,233.50 L467.49,232.75 L467.75,232.11 L468.00,231.50 L468.30,230.75 L468.61,230.00 L468.91,229.25 L469.22,228.50 L469.50,227.80 L469.75,227.19 L470.03,226.50 L470.33,225.75 L470.63,225.00 L470.94,224.25 L471.24,223.50 L471.50,222.85 L471.75,222.23 L472.05,221.50 L472.35,220.75 L472.65,220.00 L472.95,219.25 L473.25,218.50 L473.50,217.88 L473.75,217.25 L474.05,216.50 L474.35,215.75 L474.65,215.00 L474.95,214.25 L475.25,213.51 L475.50,212.89 L475.75,212.25 L476.05,211.50 L476.35,210.75 L476.65,210.00 L476.95,209.25 L477.25,208.50 L477.50,207.87 L477.75,207.24 L478.04,206.50 L478.34,205.75 L478.64,205.00 L478.93,204.25 L479.23,203.50 L479.50,202.82 L479.75,202.19 L480.02,201.50 L480.32,200.75 L480.62,200.00 L480.91,199.25 L481.21,198.50 L481.50,197.76 L481.75,197.12 L482.00,196.49 L482.29,195.75 L482.58,195.00 L482.88,194.25 L483.17,193.50 L483.47,192.75 L483.75,192.03 L484.00,191.39 L484.25,190.75 L484.55,190.00 L484.84,189.25 L485.13,188.50 L485.42,187.75 L485.72,187.00 L486.00,186.28 L486.25,185.64 L486.50,184.99 L486.79,184.25 L487.08,183.50 L487.37,182.75 L487.67,182.00 L487.96,181.25 L488.25,180.50 L488.50,179.85 L488.75,179.21 L489.02,178.50 L489.31,177.75 L489.61,177.00 L489.90,176.25 L490.19,175.50 L490.48,174.75 L490.75,174.04 L491.00,173.39 L491.25,172.75 L491.54,172.00 L491.83,171.25 L492.12,170.50 L492.40,169.75 L492.69,169.00 L492.98,168.25 L493.25,167.55 L493.50,166.90 L493.75,166.25 L494.04,165.50 L494.33,164.75 L494.61,164.00 L494.90,163.25 L495.19,162.50 L495.48,161.75 L495.75,161.03 L496.00,160.38 L496.25,159.72 L496.53,159.00 L496.81,158.25 L497.10,157.50 L497.39,156.75 L497.67,156.00 L497.96,155.25 L498.24,154.50 L498.50,153.82 L498.75,153.17 L499.00,152.50 L499.29,151.75 L499.57,151.00 L499.86,150.25 L500.14,149.50 L500.43,148.75 L500.71,148.00 L501.00,147.25 L501.25,146.58 L501.50,145.92 L501.75,145.25 L502.04,144.50 L502.32,143.75 L502.60,143.00 L502.89,142.25 L503.17,141.50 L503.45,140.75 L503.73,140.00 L504.00,139.30 L504.25,138.63 L504.50,137.97 L504.77,137.25 L505.05,136.50 L505.33,135.75 L505.62,135.00 L505.90,134.25 L506.18,133.50 L506.46,132.75 L506.74,132.00 L507.00,131.31 L507.25,130.64 L507.50,129.97 L507.77,129.25 L508.05,128.50 L508.33,127.75 L508.61,127.00 L508.89,126.25 L509.17,125.50 L509.45,124.75 L509.73,124.00 L510.00,123.28 L510.25,122.61 L510.50,121.94 L510.76,121.25 L511.04,120.50 L511.31,119.75 L511.59,119.00 L511.87,118.25 L512.15,117.50 L512.43,116.75 L512.71,116.00 L512.99,115.25 L513.25,114.54 L513.50,113.86 L513.75,113.19 L514.00,112.50 L514.28,111.75 L514.56,111.00 L514.84,110.25 L515.11,109.50 L515.39,108.75 L515.67,108.00 L515.94,107.25 L516.22,106.50 L516.50,105.75 L516.75,105.07 L517.00,104.39 L517.25,103.71 L517.51,103.00 L517.79,102.25 L518.06,101.50 L518.34,100.75 L518.61,100.00 L518.89,99.25 L519.17,98.50 L519.44,97.75 L519.72,97.00 L519.99,96.25 L520.25,95.54 L520.50,94.86 L520.75,94.18 L521.00,93.50 L521.27,92.75 L521.55,92.00 L521.82,91.25 L522.10,90.50 L522.37,89.75 L522.64,89.00 L522.92,88.25 L523.19,87.50 L523.46,86.75 L523.74,86.00 L524.00,85.28 L524.25,84.60 L524.50,83.91 L524.75,83.22 L525.01,82.50 L525.29,81.75 L525.56,81.00 L525.83,80.25 L526.10,79.50 L526.38,78.75 L526.65,78.00 L526.92,77.25 L527.19,76.50 L527.46,75.75 L527.74,75.00 L528.00,74.27 L528.25,73.58 L528.50,72.89 L528.75,72.20 L529.00,71.50 L529.27,70.75 L529.55,70.00 L529.82,69.25 L530.09,68.50 L530.36,67.75 L530.63,67.00 L530.90,66.25 L531.17,65.50 L531.44,64.75 L531.71,64.00 L531.98,63.25 L532.25,62.50 L532.50,61.81 L532.75,61.11 L533.00,60.42 L533.00,60.42"/>
<path d="M151.58,11.50 L151.63,12.50 L151.68,13.50 L151.74,14.50 L151.77,15.25 L151.83,16.25 L151.88,17.25 L151.93,18.25 L151.98,19.25 L152.02,20.00 L152.07,21.00 L152.13,22.00 L152.18,23.00 L152.23,24.00 L152.27,24.75 L152.32,25.75 L152.38,26.75 L152.43,27.75 L152.48,28.75 L152.52,29.50 L152.58,30.50 L152.63,31.50 L152.68,32.50 L152.74,33.50 L152.78,34.25 L152.83,35.25 L152.88,36.25 L152.94,37.25 L152.99,38.25 L153.03,39.00 L153.09,40.00 L153.14,41.00 L153.20,42.00 L153.25,43.00 L153.29,43.75 L153.34,44.75 L153.40,45.75 L153.45,46.75 L153.50,47.59 L153.55,48.50 L153.60,49.50 L153.66,50.50 L153.71,51.50 L153.76,52.25 L153.81,53.25 L153.87,54.25 L153.92,55.25 L153.98,56.25 L154.02,57.00 L154.07,58.00 L154.13,59.00 L154.19,60.00 L154.24,61.00 L154.28,61.75 L154.34,62.75 L154.40,63.75 L154.45,64.75 L154.50,65.59 L154.55,66.50 L154.61,67.50 L154.66,68.50 L154.72,69.50 L154.76,70.25 L154.82,71.25 L154.88,72.25 L154.93,73.25 L154.99,74.25 L155.03,75.00 L155.09,76.00 L155.15,77.00 L155.21,78.00 L155.25,78.75 L155.31,79.75 L155.37,80.75 L155.42,81.75 L155.48,82.75 L155.52,83.50 L155.58,84.50 L155.64,85.50 L155.70,86.50 L155.75,87.36 L155.80,88.25 L155.86,89.25 L155.92,90.25 L155.98,91.25 L156.02,92.00 L156.08,93.00 L156.14,94.00 L156.20,95.00 L156.25,95.85 L156.30,96.75 L156.36,97.75 L156.42,98.75 L156.48,99.75 L156.53,100.50 L156.59,101.50 L156.65,102.50 L156.71,103.50 L156.75,104.25 L156.81,105.25 L156.87,106.25 L156.93,107.25 L156.99,108.25 L157.04,109.00 L157.10,110.00 L157.16,111.00 L157.22,112.00 L157.27,112.75 L157.33,113.75 L157.39,114.75 L157.45,115.75 L157.50,116.55 L157.56,117.50 L157.62,118.50 L157.68,119.50 L157.74,120.50 L157.79,121.25 L157.85,122.25 L157.91,123.25 L157.98,124.25 L158.02,125.00 L158.09,126.00 L158.15,127.00 L158.21,128.00 L158.26,128.75 L158.32,129.75 L158.38,130.75 L158.45,131.75 L158.50,132.59 L158.56,133.50 L158.62,134.50 L158.68,135.50 L158.75,136.50 L158.80,137.25 L158.86,138.25 L158.92,139.25 L158.99,140.25 L159.04,141.00 L159.10,142.00 L159.16,143.00 L159.23,144.00 L159.28,144.75 L159.34,145.75 L159.41,146.75 L159.47,147.75 L159.52,148.50 L159.59,149.50 L159.65,150.50 L159.72,151.50 L159.77,152.25 L159.83,153.25 L159.90,154.25 L159.96,155.25 L160.01,156.00 L160.08,157.00 L160.15,158.00 L160.21,159.00 L160.26,159.75 L160.33,160.75 L160.39,161.75 L160.46,162.75 L160.51,163.50 L160.58,164.50 L160.65,165.50 L160.71,166.50 L160.76,167.25 L160.83,168.25 L160.90,169.25 L160.97,170.25 L161.02,171.00 L161.09,172.00 L161.15,173.00 L161.22,174.00 L161.27,174.75 L161.34,175.75 L161.41,176.75 L161.48,177.75 L161.53,178.50 L161.60,179.50 L161.67,180.50 L161.74,181.50 L161.79,182.25 L161.86,183.25 L161.93,184.25 L162.00,185.25 L162.05,186.00 L162.12,187.00 L162.19,188.00 L162.25,188.85 L162.31,189.75 L162.38,190.75 L162.45,191.75 L162.51,192.50 L162.58,193.50 L162.65,194.50 L162.72,195.50 L162.77,196.25 L162.85,197.25 L162.92,198.25 L162.99,199.25 L163.04,200.00 L163.11,201.00 L163.19,202.00 L163.25,202.88 L163.31,203.75 L163.39,204.75 L163.46,205.75 L163.51,206.50 L163.59,207.50 L163.66,208.50 L163.73,209.50 L163.79,210.25 L163.86,211.25 L163.93,212.25 L164.00,213.16 L164.06,214.00 L164.14,215.00 L164.21,216.00 L164.27,216.75 L164.34,217.75 L164.41,218.75 L164.49,219.75 L164.55,220.50 L164.62,221.50 L164.70,222.50 L164.75,223.25 L164.83,224.25 L164.90,225.25 L164.98,226.25 L165.04,227.00 L165.11,228.00 L165.19,229.00 L165.25,229.82 L165.32,230.75 L165.40,231.75 L165.47,232.75 L165.53,233.50 L165.61,234.50 L165.69,235.50 L165.75,236.33 L165.82,237.25 L165.90,238.25 L165.98,239.25 L166.03,240.00 L166.11,241.00 L166.19,242.00 L166.25,242.75 L166.33,243.75 L166.41,244.75 L166.49,245.75 L166.54,246.50 L166.62,247.50 L166.70,248.50 L166.76,249.25 L166.84,250.25 L166.92,251.25 L167.00,252.23 L167.06,253.00 L167.14,254.00 L167.22,255.00 L167.28,255.75 L167.36,256.75 L167.44,257.75 L167.51,258.50 L167.59,259.50 L167.67,260.50 L167.75,261.50 L167.81,262.25 L167.89,263.25 L167.97,264.25 L168.04,265.00 L168.12,266.00 L168.20,267.00 L168.26,267.75 L168.35,268.75 L168.43,269.75 L168.50,270.60 L168.57,271.50 L168.66,272.50 L168.74,273.50 L168.81,274.25 L168.89,275.25 L168.97,276.25 L169.04,277.00 L169.12,278.00 L169.21,279.00 L169.27,279.75 L169.36,280.75 L169.44,281.75 L169.50,282.50 L169.59,283.50 L169.68,284.50 L169.75,285.36 L169.83,286.25 L169.91,287.25 L170.00,288.25 L170.06,289.00 L170.15,290.00 L170.24,291.00 L170.30,291.75 L170.39,292.75 L170.48,293.75 L170.55,294.50 L170.63,295.50 L170.72,296.50 L170.79,297.25 L170.88,298.25 L170.97,299.25 L171.03,300.00 L171.12,301.00 L171.21,302.00 L171.28,302.75 L171.37,303.75 L171.46,304.75 L171.53,305.50 L171.62,306.50 L171.71,307.50 L171.77,308.25 L171.87,309.25 L171.96,310.25 L172.03,311.00 L172.12,312.00 L172.21,313.00 L172.28,313.75 L172.37,314.75 L172.46,315.75 L172.53,316.50 L172.62,317.50 L172.72,318.50 L172.79,319.25 L172.88,320.25 L172.97,321.25 L173.05,322.00 L173.14,323.00 L173.23,324.00 L173.30,324.75 L173.40,325.75 L173.49,326.75 L173.57,327.50 L173.66,328.50 L173.75,329.43 L173.83,330.25 L173.92,331.25 L174.00,332.04 L174.09,333.00 L174.19,334.00 L174.26,334.75 L174.36,335.75 L174.46,336.75 L174.53,337.50 L174.63,338.50 L174.73,339.50 L174.80,340.25 L174.90,341.25 L175.00,342.25 L175.07,343.00 L175.17,344.00 L175.25,344.80 L175.34,345.75 L175.44,346.75 L175.52,347.50 L175.62,348.50 L175.72,349.50 L175.80,350.25 L175.90,351.25 L176.00,352.25 L176.07,353.00 L176.18,354.00 L176.25,354.75 L176.36,355.75 L176.46,356.75 L176.54,357.50 L176.64,358.50 L176.74,359.50 L176.82,360.25 L176.92,361.25 L177.00,362.00 L177.11,363.00 L177.21,364.00 L177.29,364.75 L177.39,365.75 L177.50,366.75 L177.58,367.50 L177.68,368.50 L177.76,369.25 L177.87,370.25 L177.98,371.25 L178.06,372.00 L178.16,373.00 L178.25,373.79 L178.35,374.75 L178.46,375.75 L178.54,376.50 L178.65,377.50 L178.75,378.41 L178.84,379.25 L178.95,380.25 L179.03,381.00 L179.14,382.00 L179.25,382.97 L179.34,383.75 L179.45,384.75 L179.53,385.50 L179.64,386.50 L179.75,387.47 L179.84,388.25 L179.95,389.25 L180.03,390.00 L180.15,391.00 L180.25,391.91 L180.35,392.75 L180.46,393.75 L180.54,394.50 L180.66,395.50 L180.75,396.29 L180.83,397.00"/>
<path d="M444.25,397.00 L444.54,396.25 L444.83,395.50 L445.12,394.75 L445.41,394.00 L445.70,393.25 L445.99,392.50 L446.25,391.82 L446.50,391.17 L446.76,390.50 L447.05,389.75 L447.33,389.00 L447.62,388.25 L447.91,387.50 L448.20,386.75 L448.49,386.00 L448.75,385.31 L449.00,384.66 L449.25,384.00 L449.54,383.25 L449.82,382.50 L450.11,381.75 L450.40,381.00 L450.68,380.25 L450.97,379.50 L451.25,378.76 L451.50,378.10 L451.75,377.45 L452.01,376.75 L452.30,376.00 L452.58,375.25 L452.87,374.50 L453.15,373.75 L453.44,373.00 L453.72,372.25 L454.00,371.51 L454.25,370.85 L454.50,370.19 L454.76,369.50 L455.05,368.75 L455.33,368.00 L455.61,367.25 L455.89,366.50 L456.18,365.75 L456.46,365.00 L456.74,364.25 L457.00,363.56 L457.25,362.90 L457.50,362.23 L457.78,361.50 L458.06,360.75 L458.34,360.00 L458.62,359.25 L458.90,358.50 L459.18,357.75 L459.46,357.00 L459.74,356.25 L460.00,355.57 L460.25,354.90 L460.50,354.23 L460.77,353.50 L461.05,352.75 L461.33,352.00 L461.61,351.25 L461.89,350.50 L462.17,349.75 L462.45,349.00 L462.73,348.25 L463.00,347.52 L463.25,346.85 L463.50,346.18 L463.75,345.50 L464.03,344.75 L464.31,344.00 L464.59,343.25 L464.86,342.50 L465.14,341.75 L465.42,341.00 L465.70,340.25 L465.97,339.50 L466.25,338.75 L466.50,338.08 L466.75,337.40 L467.00,336.72 L467.27,336.00 L467.54,335.25 L467.82,334.50 L468.10,333.75 L468.37,333.00 L468.65,332.25 L468.92,331.50 L469.20,330.75 L469.48,330.00 L469.75,329.25 L470.00,328.57 L470.25,327.89 L470.50,327.21 L470.76,326.50 L471.03,325.75 L471.31,325.00 L471.58,324.25 L471.86,323.50 L472.13,322.75 L472.41,322.00 L472.68,321.25 L472.96,320.50 L473.23,319.75 L473.50,319.01 L473.75,318.32 L474.00,317.64 L474.25,316.95 L474.51,316.25 L474.78,315.50 L475.05,314.75 L475.32,314.00 L475.60,313.25 L475.87,312.50 L476.14,311.75 L476.41,311.00 L476.69,310.25 L476.96,309.50 L477.23,308.75 L477.50,308.01 L477.75,307.32 L478.00,306.63 L478.25,305.94 L478.50,305.25 L478.77,304.50 L479.04,303.75 L479.31,303.00 L479.58,302.25 L479.85,301.50 L480.12,300.75 L480.39,300.00 L480.67,299.25 L480.94,298.50 L481.21,297.75 L481.48,297.00 L481.75,296.25 L482.00,295.54 L482.25,294.85 L482.50,294.15 L482.75,293.46 L483.00,292.75 L483.27,292.00 L483.54,291.25 L483.81,290.50 L484.08,289.75 L484.35,289.00 L484.62,288.25 L484.89,287.50 L485.16,286.75 L485.42,286.00 L485.69,285.25 L485.96,284.50 L486.23,283.75 L486.50,283.00 L486.75,282.29 L487.00,281.59 L487.25,280.89 L487.50,280.19 L487.75,279.49 L488.01,278.75 L488.28,278.00 L488.55,277.25 L488.81,276.50 L489.08,275.75 L489.35,275.00 L489.61,274.25 L489.88,273.50 L490.15,272.75 L490.41,272.00 L490.68,271.25 L490.95,270.50 L491.21,269.75 L491.48,269.00 L491.74,268.25 L492.00,267.53 L492.25,266.82 L492.50,266.12 L492.75,265.41 L493.00,264.71 L493.25,264.00 L493.51,263.25 L493.78,262.50 L494.04,261.75 L494.31,261.00 L494.57,260.25 L494.84,259.50 L495.10,258.75 L495.37,258.00 L495.63,257.25 L495.90,256.50 L496.16,255.75 L496.43,255.00 L496.69,254.25 L496.95,253.50 L497.22,252.75 L497.48,252.00 L497.74,251.25 L498.00,250.52 L498.25,249.81 L498.50,249.10 L498.75,248.39 L499.00,247.67 L499.25,246.96 L499.50,246.25 L499.76,245.50 L500.02,244.75 L500.29,244.00 L500.55,243.25 L500.81,242.50 L501.07,241.75 L501.34,241.00 L501.60,240.25 L501.86,239.50 L502.12,238.75 L502.39,238.00 L502.65,237.25 L502.91,236.50 L503.17,235.75 L503.43,235.00 L503.69,234.25 L503.96,233.50 L504.22,232.75 L504.48,232.00 L504.74,231.25 L505.00,230.50 L505.25,229.78 L505.50,229.06 L505.75,228.34 L506.00,227.62 L506.25,226.90 L506.50,226.18 L506.75,225.46 L507.00,224.74 L507.26,224.00 L507.52,223.25 L507.78,222.50 L508.04,221.75 L508.30,221.00 L508.56,220.25 L508.82,219.50 L509.08,218.75 L509.34,218.00 L509.60,217.25 L509.86,216.50 L510.12,215.75 L510.37,215.00 L510.63,214.25 L510.89,213.50 L511.15,212.75 L511.41,212.00 L511.67,211.25 L511.93,210.50 L512.19,209.75 L512.45,209.00 L512.70,208.25 L512.96,207.50 L513.22,206.75 L513.48,206.00 L513.74,205.25 L514.00,204.50 L514.25,203.76 L514.50,203.03 L514.75,202.30 L515.00,201.58 L515.25,200.85 L515.50,200.12 L515.75,199.39 L516.00,198.67 L516.25,197.94 L516.50,197.21 L516.75,196.48 L517.00,195.75 L517.26,195.00 L517.51,194.25 L517.77,193.50 L518.03,192.75 L518.28,192.00 L518.54,191.25 L518.80,190.50 L519.05,189.75 L519.31,189.00 L519.57,188.25 L519.82,187.50 L520.08,186.75 L520.34,186.00 L520.59,185.25 L520.85,184.50 L521.10,183.75 L521.36,183.00 L521.62,182.25 L521.87,181.50 L522.13,180.75 L522.38,180.00 L522.64,179.25 L522.89,178.50 L523.15,177.75 L523.40,177.00 L523.66,176.25 L523.91,175.50 L524.17,174.75 L524.42,174.00 L524.68,173.25 L524.93,172.50 L525.19,171.75 L525.44,171.00 L525.70,170.25 L525.95,169.50 L526.21,168.75 L526.46,168.00 L526.71,167.25 L526.97,166.50 L527.22,165.75 L527.48,165.00 L527.73,164.25 L527.99,163.50 L528.24,162.75 L528.49,162.00 L528.75,161.25 L529.00,160.50 L529.25,159.76 L529.50,159.02 L529.75,158.28 L530.00,157.54 L530.25,156.80 L530.50,156.06 L530.75,155.32 L531.00,154.58 L531.25,153.84 L531.50,153.10 L531.75,152.36 L532.00,151.61 L532.25,150.87 L532.50,150.13 L532.75,149.39 L533.00,148.65 L533.00,148.65"/>
<path d="M127.00,11.50 L127.02,12.25 L127.05,13.25 L127.09,14.25 L127.12,15.25 L127.15,16.25 L127.18,17.25 L127.22,18.25 L127.25,19.25 L127.27,20.00 L127.31,21.00 L127.34,22.00 L127.37,23.00 L127.40,24.00 L127.44,25.00 L127.47,26.00 L127.50,26.90 L127.53,27.75 L127.56,28.75 L127.59,29.75 L127.63,30.75 L127.66,31.75 L127.69,32.75 L127.73,33.75 L127.75,34.50 L127.79,35.50 L127.82,36.50 L127.85,37.50 L127.89,38.50 L127.92,39.50 L127.95,40.50 L127.99,41.50 L128.01,42.25 L128.05,43.25 L128.08,44.25 L128.11,45.25 L128.15,46.25 L128.18,47.25 L128.22,48.25 L128.25,49.25 L128.27,50.00 L128.31,51.00 L128.34,52.00 L128.38,53.00 L128.41,54.00 L128.45,55.00 L128.48,56.00 L128.51,56.75 L128.54,57.75 L128.57,58.75 L128.61,59.75 L128.64,60.75 L128.68,61.75 L128.71,62.75 L128.75,63.75 L128.77,64.50 L128.81,65.50 L128.84,66.50 L128.88,67.50 L128.91,68.50 L128.95,69.50 L128.98,70.50 L129.01,71.25 L129.04,72.25 L129.08,73.25 L129.11,74.25 L129.15,75.25 L129.18,76.25 L129.22,77.25 L129.25,78.09 L129.28,79.00 L129.32,80.00 L129.35,81.00 L129.39,82.00 L129.42,83.00 L129.46,84.00 L129.50,85.00 L129.52,85.75 L129.56,86.75 L129.59,87.75 L129.63,88.75 L129.67,89.75 L129.70,90.75 L129.74,91.75 L129.77,92.50 L129.80,93.50 L129.84,94.50 L129.87,95.50 L129.91,96.50 L129.95,97.50 L129.98,98.50 L130.01,99.25 L130.05,100.25 L130.08,101.25 L130.12,102.25 L130.16,103.25 L130.19,104.25 L130.23,105.25 L130.26,106.00 L130.29,107.00 L130.33,108.00 L130.37,109.00 L130.41,110.00 L130.44,111.00 L130.48,112.00 L130.51,112.75 L130.55,113.75 L130.58,114.75 L130.62,115.75 L130.66,116.75 L130.69,117.75 L130.73,118.75 L130.76,119.50 L130.80,120.50 L130.84,121.50 L130.87,122.50 L130.91,123.50 L130.95,124.50 L130.99,125.50 L131.02,126.25 L131.05,127.25 L131.09,128.25 L131.13,129.25 L131.17,130.25 L131.21,131.25 L131.24,132.25 L131.27,133.00 L131.31,134.00 L131.35,135.00 L131.39,136.00 L131.43,137.00 L131.46,138.00 L131.50,138.91 L131.53,139.75 L131.57,140.75 L131.61,141.75 L131.65,142.75 L131.69,143.75 L131.73,144.75 L131.76,145.50 L131.79,146.50 L131.83,147.50 L131.87,148.50 L131.91,149.50 L131.95,150.50 L131.99,151.50 L132.02,152.25 L132.06,153.25 L132.10,154.25 L132.14,155.25 L132.18,156.25 L132.22,157.25 L132.25,158.04 L132.29,159.00 L132.33,160.00 L132.37,161.00 L132.41,162.00 L132.45,163.00 L132.49,164.00 L132.52,164.75 L132.56,165.75 L132.60,166.75 L132.64,167.75 L132.68,168.75 L132.72,169.75 L132.75,170.50 L132.79,171.50 L132.83,172.50 L132.87,173.50 L132.91,174.50 L132.95,175.50 L132.99,176.50 L133.03,177.25 L133.07,178.25 L133.11,179.25 L133.15,180.25 L133.19,181.25 L133.23,182.25 L133.26,183.00 L133.30,184.00 L133.34,185.00 L133.39,186.00 L133.43,187.00 L133.47,188.00 L133.50,188.75 L133.54,189.75 L133.58,190.75 L133.63,191.75 L133.67,192.75 L133.71,193.75 L133.75,194.71 L133.78,195.50 L133.83,196.50 L133.87,197.50 L133.91,198.50 L133.95,199.50 L133.99,200.50 L134.03,201.25 L134.07,202.25 L134.11,203.25 L134.15,204.25 L134.20,205.25 L134.24,206.25 L134.27,207.00 L134.32,208.00 L134.36,209.00 L134.40,210.00 L134.44,211.00 L134.49,212.00 L134.52,212.75 L134.56,213.75 L134.61,214.75 L134.65,215.75 L134.69,216.75 L134.74,217.75 L134.77,218.50 L134.81,219.50 L134.86,220.50 L134.90,221.50 L134.95,222.50 L134.99,223.50 L135.02,224.25 L135.07,225.25 L135.11,226.25 L135.16,227.25 L135.20,228.25 L135.24,229.25 L135.28,230.00 L135.32,231.00 L135.37,232.00 L135.41,233.00 L135.46,234.00 L135.50,234.98 L135.53,235.75 L135.58,236.75 L135.62,237.75 L135.67,238.75 L135.71,239.75 L135.75,240.53 L135.79,241.50 L135.84,242.50 L135.88,243.50 L135.93,244.50 L135.98,245.50 L136.01,246.25 L136.06,247.25 L136.10,248.25 L136.15,249.25 L136.19,250.25 L136.24,251.25 L136.27,252.00 L136.32,253.00 L136.37,254.00 L136.41,255.00 L136.46,256.00 L136.50,256.87 L136.54,257.75 L136.59,258.75 L136.63,259.75 L136.68,260.75 L136.73,261.75 L136.76,262.50 L136.81,263.50 L136.86,264.50 L136.90,265.50 L136.95,266.50 L137.00,267.50 L137.03,268.25 L137.08,269.25 L137.13,270.25 L137.18,271.25 L137.23,272.25 L137.26,273.00 L137.31,274.00 L137.36,275.00 L137.40,276.00 L137.45,277.00 L137.50,277.98 L137.54,278.75 L137.59,279.75 L137.63,280.75 L137.68,281.75 L137.73,282.75 L137.77,283.50 L137.82,284.50 L137.87,285.50 L137.91,286.50 L137.96,287.50 L138.00,288.26 L138.05,289.25 L138.10,290.25 L138.15,291.25 L138.20,292.25 L138.25,293.25 L138.28,294.00 L138.33,295.00 L138.38,296.00 L138.43,297.00 L138.48,298.00 L138.52,298.75 L138.57,299.75 L138.62,300.75 L138.67,301.75 L138.72,302.75 L138.76,303.50 L138.81,304.50 L138.86,305.50 L138.91,306.50 L138.96,307.50 L139.00,308.27 L139.05,309.25 L139.10,310.25 L139.15,311.25 L139.20,312.25 L139.25,313.17 L139.29,314.00 L139.34,315.00 L139.40,316.00 L139.45,317.00 L139.50,318.00 L139.54,318.75 L139.59,319.75 L139.64,320.75 L139.69,321.75 L139.75,322.75 L139.78,323.50 L139.84,324.50 L139.89,325.50 L139.94,326.50 L139.99,327.50 L140.03,328.25 L140.09,329.25 L140.14,330.25 L140.19,331.25 L140.25,332.25 L140.29,333.00 L140.34,334.00 L140.39,335.00 L140.45,336.00 L140.50,337.00 L140.54,337.75 L140.59,338.75 L140.65,339.75 L140.70,340.75 L140.75,341.67 L140.79,342.50 L140.85,343.50 L140.90,344.50 L140.96,345.50 L141.00,346.28 L141.05,347.25 L141.11,348.25 L141.16,349.25 L141.22,350.25 L141.26,351.00 L141.31,352.00 L141.37,353.00 L141.42,354.00 L141.48,355.00 L141.52,355.75 L141.58,356.75 L141.63,357.75 L141.69,358.75 L141.74,359.75 L141.79,360.50 L141.84,361.50 L141.90,362.50 L141.95,363.50 L142.00,364.32 L142.05,365.25 L142.11,366.25 L142.17,367.25 L142.22,368.25 L142.27,369.00 L142.32,370.00 L142.38,371.00 L142.44,372.00 L142.49,373.00 L142.54,373.75 L142.59,374.75 L142.65,375.75 L142.71,376.75 L142.75,377.50 L142.81,378.50 L142.87,379.50 L142.93,380.50 L142.98,381.50 L143.03,382.25 L143.09,383.25 L143.15,384.25 L143.20,385.25 L143.25,386.03 L143.31,387.00 L143.37,388.00 L143.43,389.00 L143.48,390.00 L143.53,390.75 L143.59,391.75 L143.65,392.75 L143.71,393.75 L143.75,394.50 L143.81,395.50 L143.87,396.50 L143.90,397.00"/>
<path d="M481.18,397.00 L481.43,396.25 L481.68,395.50 L481.93,394.75 L482.18,394.00 L482.43,393.25 L482.67,392.50 L482.92,391.75 L483.17,391.00 L483.42,390.25 L483.67,389.50 L483.91,388.75 L484.16,388.00 L484.41,387.25 L484.66,386.50 L484.91,385.75 L485.15,385.00 L485.40,384.25 L485.65,383.50 L485.90,382.75 L486.14,382.00 L486.39,381.25 L486.64,380.50 L486.89,379.75 L487.13,379.00 L487.38,378.25 L487.63,377.50 L487.87,376.75 L488.12,376.00 L488.37,375.25 L488.62,374.50 L488.86,373.75 L489.11,373.00 L489.36,372.25 L489.60,371.50 L489.85,370.75 L490.09,370.00 L490.34,369.25 L490.59,368.50 L490.83,367.75 L491.08,367.00 L491.33,366.25 L491.57,365.50 L491.82,364.75 L492.06,364.00 L492.31,363.25 L492.56,362.50 L492.80,361.75 L493.05,361.00 L493.29,360.25 L493.54,359.50 L493.78,358.75 L494.03,358.00 L494.28,357.25 L494.52,356.50 L494.77,355.75 L495.01,355.00 L495.26,354.25 L495.50,353.50 L495.75,352.74 L496.00,351.97 L496.25,351.21 L496.50,350.44 L496.75,349.68 L497.00,348.91 L497.25,348.15 L497.50,347.38 L497.75,346.61 L498.00,345.85 L498.25,345.08 L498.50,344.31 L498.75,343.54 L499.00,342.78 L499.25,342.01 L499.50,341.25 L499.74,340.50 L499.99,339.75 L500.23,339.00 L500.47,338.25 L500.72,337.50 L500.96,336.75 L501.20,336.00 L501.45,335.25 L501.69,334.50 L501.94,333.75 L502.18,333.00 L502.42,332.25 L502.67,331.50 L502.91,330.75 L503.15,330.00 L503.40,329.25 L503.64,328.50 L503.88,327.75 L504.13,327.00 L504.37,326.25 L504.61,325.50 L504.86,324.75 L505.10,324.00 L505.34,323.25 L505.58,322.50 L505.83,321.75 L506.07,321.00 L506.31,320.25 L506.55,319.50 L506.80,318.75 L507.04,318.00 L507.28,317.25 L507.52,316.50 L507.77,315.75 L508.01,315.00 L508.25,314.25 L508.50,313.48 L508.75,312.71 L509.00,311.93 L509.25,311.16 L509.50,310.38 L509.75,309.61 L510.00,308.83 L510.25,308.06 L510.50,307.28 L510.75,306.51 L510.99,305.75 L511.24,305.00 L511.48,304.25 L511.72,303.50 L511.96,302.75 L512.20,302.00 L512.44,301.25 L512.68,300.50 L512.92,299.75 L513.17,299.00 L513.41,298.25 L513.65,297.50 L513.89,296.75 L514.13,296.00 L514.37,295.25 L514.61,294.50 L514.85,293.75 L515.09,293.00 L515.33,292.25 L515.58,291.50 L515.82,290.75 L516.06,290.00 L516.30,289.25 L516.54,288.50 L516.78,287.75 L517.02,287.00 L517.26,286.25 L517.50,285.50 L517.75,284.72 L518.00,283.94 L518.25,283.16 L518.50,282.38 L518.75,281.60 L519.00,280.81 L519.25,280.03 L519.50,279.25 L519.74,278.50 L519.98,277.75 L520.22,277.00 L520.46,276.25 L520.70,275.50 L520.94,274.75 L521.18,274.00 L521.42,273.25 L521.66,272.50 L521.90,271.75 L522.14,271.00 L522.38,270.25 L522.62,269.50 L522.86,268.75 L523.09,268.00 L523.33,267.25 L523.57,266.50 L523.81,265.75 L524.05,265.00 L524.29,264.25 L524.53,263.50 L524.77,262.75 L525.01,262.00 L525.25,261.24 L525.50,260.45 L525.75,259.67 L526.00,258.88 L526.25,258.10 L526.50,257.31 L526.75,256.52 L527.00,255.75 L527.23,255.00 L527.47,254.25 L527.71,253.50 L527.95,252.75 L528.19,252.00 L528.43,251.25 L528.66,250.50 L528.90,249.75 L529.14,249.00 L529.38,248.25 L529.62,247.50 L529.85,246.75 L530.09,246.00 L530.33,245.25 L530.57,244.50 L530.81,243.75 L531.04,243.00 L531.28,242.25 L531.52,241.50 L531.76,240.75 L532.00,239.99 L532.25,239.20 L532.50,238.41 L532.75,237.62 L533.00,236.83 L533.00,236.83"/>
<path d="M104.73,11.50 L104.74,12.50 L104.76,13.25 L104.78,14.25 L104.79,15.25 L104.81,16.25 L104.83,17.25 L104.85,18.25 L104.87,19.25 L104.88,20.25 L104.90,21.25 L104.92,22.25 L104.94,23.25 L104.96,24.25 L104.98,25.25 L104.99,26.25 L105.01,27.00 L105.03,28.00 L105.04,29.00 L105.06,30.00 L105.08,31.00 L105.10,32.00 L105.12,33.00 L105.14,34.00 L105.15,35.00 L105.17,36.00 L105.19,37.00 L105.21,38.00 L105.23,39.00 L105.25,40.00 L105.26,40.75 L105.28,41.75 L105.30,42.75 L105.32,43.75 L105.34,44.75 L105.35,45.75 L105.37,46.75 L105.39,47.75 L105.41,48.75 L105.43,49.75 L105.45,50.75 L105.47,51.75 L105.49,52.75 L105.50,53.51 L105.52,54.50 L105.54,55.50 L105.56,56.50 L105.58,57.50 L105.59,58.50 L105.61,59.50 L105.63,60.50 L105.65,61.50 L105.67,62.50 L105.69,63.50 L105.71,64.50 L105.73,65.50 L105.75,66.50 L105.76,67.25 L105.78,68.25 L105.80,69.25 L105.82,70.25 L105.84,71.25 L105.86,72.25 L105.88,73.25 L105.90,74.25 L105.92,75.25 L105.94,76.25 L105.95,77.25 L105.97,78.25 L105.99,79.25 L106.01,80.00 L106.03,81.00 L106.05,82.00 L106.07,83.00 L106.09,84.00 L106.11,85.00 L106.13,86.00 L106.15,87.00 L106.17,88.00 L106.18,89.00 L106.20,90.00 L106.22,91.00 L106.24,92.00 L106.26,92.75 L106.28,93.75 L106.30,94.75 L106.32,95.75 L106.34,96.75 L106.36,97.75 L106.38,98.75 L106.40,99.75 L106.42,100.75 L106.44,101.75 L106.46,102.75 L106.48,103.75 L106.50,104.75 L106.51,105.50 L106.53,106.50 L106.55,107.50 L106.57,108.50 L106.59,109.50 L106.61,110.50 L106.63,111.50 L106.66,112.50 L106.68,113.50 L106.70,114.50 L106.72,115.50 L106.74,116.50 L106.75,117.25 L106.77,118.25 L106.79,119.25 L106.81,120.25 L106.83,121.25 L106.85,122.25 L106.88,123.25 L106.90,124.25 L106.92,125.25 L106.94,126.25 L106.96,127.25 L106.98,128.25 L107.00,129.25 L107.01,130.00 L107.04,131.00 L107.06,132.00 L107.08,133.00 L107.10,134.00 L107.12,135.00 L107.14,136.00 L107.16,137.00 L107.18,138.00 L107.20,139.00 L107.22,140.00 L107.25,141.00 L107.26,141.75 L107.28,142.75 L107.30,143.75 L107.32,144.75 L107.35,145.75 L107.37,146.75 L107.39,147.75 L107.41,148.75 L107.43,149.75 L107.45,150.75 L107.47,151.75 L107.49,152.75 L107.51,153.50 L107.53,154.50 L107.55,155.50 L107.58,156.50 L107.60,157.50 L107.62,158.50 L107.64,159.50 L107.66,160.50 L107.68,161.50 L107.70,162.50 L107.73,163.50 L107.75,164.50 L107.76,165.25 L107.79,166.25 L107.81,167.25 L107.83,168.25 L107.85,169.25 L107.87,170.25 L107.90,171.25 L107.92,172.25 L107.94,173.25 L107.96,174.25 L107.98,175.25 L108.00,176.01 L108.02,177.00 L108.04,178.00 L108.07,179.00 L108.09,180.00 L108.11,181.00 L108.13,182.00 L108.16,183.00 L108.18,184.00 L108.20,185.00 L108.22,186.00 L108.24,187.00 L108.26,187.75 L108.28,188.75 L108.31,189.75 L108.33,190.75 L108.35,191.75 L108.37,192.75 L108.40,193.75 L108.42,194.75 L108.44,195.75 L108.46,196.75 L108.49,197.75 L108.50,198.50 L108.53,199.50 L108.55,200.50 L108.57,201.50 L108.60,202.50 L108.62,203.50 L108.64,204.50 L108.66,205.50 L108.69,206.50 L108.71,207.50 L108.73,208.50 L108.75,209.25 L108.77,210.25 L108.80,211.25 L108.82,212.25 L108.84,213.25 L108.87,214.25 L108.89,215.25 L108.91,216.25 L108.94,217.25 L108.96,218.25 L108.98,219.25 L109.00,220.00 L109.02,221.00 L109.05,222.00 L109.07,223.00 L109.09,224.00 L109.12,225.00 L109.14,226.00 L109.16,227.00 L109.19,228.00 L109.21,229.00 L109.24,230.00 L109.25,230.75 L109.28,231.75 L109.30,232.75 L109.32,233.75 L109.35,234.75 L109.37,235.75 L109.40,236.75 L109.42,237.75 L109.44,238.75 L109.47,239.75 L109.49,240.75 L109.51,241.50 L109.53,242.50 L109.56,243.50 L109.58,244.50 L109.61,245.50 L109.63,246.50 L109.66,247.50 L109.68,248.50 L109.70,249.50 L109.73,250.50 L109.75,251.35 L109.77,252.25 L109.80,253.25 L109.82,254.25 L109.85,255.25 L109.87,256.25 L109.89,257.25 L109.92,258.25 L109.94,259.25 L109.97,260.25 L109.99,261.25 L110.01,262.00 L110.04,263.00 L110.06,264.00 L110.09,265.00 L110.11,266.00 L110.14,267.00 L110.16,268.00 L110.19,269.00 L110.21,270.00 L110.24,271.00 L110.26,271.75 L110.28,272.75 L110.31,273.75 L110.33,274.75 L110.36,275.75 L110.38,276.75 L110.41,277.75 L110.43,278.75 L110.46,279.75 L110.48,280.75 L110.50,281.50 L110.53,282.50 L110.55,283.50 L110.58,284.50 L110.61,285.50 L110.63,286.50 L110.66,287.50 L110.68,288.50 L110.71,289.50 L110.73,290.50 L110.75,291.25 L110.78,292.25 L110.81,293.25 L110.83,294.25 L110.86,295.25 L110.88,296.25 L110.91,297.25 L110.94,298.25 L110.96,299.25 L110.99,300.25 L111.01,301.00 L111.03,302.00 L111.06,303.00 L111.09,304.00 L111.11,305.00 L111.14,306.00 L111.17,307.00 L111.19,308.00 L111.22,309.00 L111.25,310.00 L111.27,310.75 L111.29,311.75 L111.32,312.75 L111.35,313.75 L111.37,314.75 L111.40,315.75 L111.43,316.75 L111.45,317.75 L111.48,318.75 L111.50,319.50 L111.53,320.50 L111.55,321.50 L111.58,322.50 L111.61,323.50 L111.64,324.50 L111.66,325.50 L111.69,326.50 L111.72,327.50 L111.74,328.50 L111.76,329.25 L111.79,330.25 L111.82,331.25 L111.85,332.25 L111.87,333.25 L111.90,334.25 L111.93,335.25 L111.96,336.25 L111.99,337.25 L112.01,338.00 L112.03,339.00 L112.06,340.00 L112.09,341.00 L112.12,342.00 L112.15,343.00 L112.17,344.00 L112.20,345.00 L112.23,346.00 L112.25,346.75 L112.28,347.75 L112.31,348.75 L112.33,349.75 L112.36,350.75 L112.39,351.75 L112.42,352.75 L112.45,353.75 L112.48,354.75 L112.50,355.59 L112.53,356.50 L112.55,357.50 L112.58,358.50 L112.61,359.50 L112.64,360.50 L112.67,361.50 L112.70,362.50 L112.73,363.50 L112.75,364.31 L112.78,365.25 L112.81,366.25 L112.84,367.25 L112.86,368.25 L112.89,369.25 L112.92,370.25 L112.95,371.25 L112.98,372.25 L113.00,373.00 L113.03,374.00 L113.06,375.00 L113.09,376.00 L113.12,377.00 L113.15,378.00 L113.18,379.00 L113.21,380.00 L113.24,381.00 L113.26,381.75 L113.29,382.75 L113.32,383.75 L113.35,384.75 L113.38,385.75 L113.41,386.75 L113.44,387.75 L113.47,388.75 L113.50,389.75 L113.52,390.50 L113.55,391.50 L113.58,392.50 L113.61,393.50 L113.64,394.50 L113.67,395.50 L113.70,396.50 L113.72,397.00"/>
<path d="M511.37,397.00 L511.59,396.25 L511.82,395.50 L512.05,394.75 L512.27,394.00 L512.50,393.25 L512.75,392.42 L513.00,391.59 L513.25,390.76 L513.48,390.00 L513.71,389.25 L513.93,388.50 L514.16,387.75 L514.38,387.00 L514.61,386.25 L514.84,385.50 L515.06,384.75 L515.29,384.00 L515.51,383.25 L515.75,382.47 L516.00,381.64 L516.25,380.81 L516.49,380.00 L516.72,379.25 L516.94,378.50 L517.17,377.75 L517.40,377.00 L517.62,376.25 L517.85,375.50 L518.07,374.75 L518.30,374.00 L518.52,373.25 L518.75,372.50 L519.00,371.67 L519.25,370.84 L519.50,370.01 L519.73,369.25 L519.95,368.50 L520.18,367.75 L520.40,367.00 L520.63,366.25 L520.85,365.50 L521.08,364.75 L521.31,364.00 L521.53,363.25 L521.76,362.50 L522.00,361.69 L522.25,360.85 L522.50,360.02 L522.73,359.25 L522.96,358.50 L523.18,357.75 L523.41,357.00 L523.63,356.25 L523.86,355.50 L524.08,354.75 L524.31,354.00 L524.53,353.25 L524.76,352.50 L525.00,351.69 L525.25,350.86 L525.50,350.02 L525.73,349.25 L525.96,348.50 L526.18,347.75 L526.41,347.00 L526.63,346.25 L526.86,345.50 L527.08,344.75 L527.30,344.00 L527.53,343.25 L527.75,342.50 L528.00,341.68 L528.25,340.84 L528.50,340.01 L528.73,339.25 L528.95,338.50 L529.18,337.75 L529.40,337.00 L529.62,336.25 L529.85,335.50 L530.07,334.75 L530.30,334.00 L530.52,333.25 L530.75,332.49 L531.00,331.65 L531.25,330.82 L531.49,330.00 L531.72,329.25 L531.94,328.50 L532.17,327.75 L532.39,327.00 L532.62,326.25 L532.84,325.50 L533.00,324.96"/>
</g>
<g stroke="#000" stroke-width="2">
<line x1="76.5" y1="11.5" x2="89" y2="11.5" stroke-width="1.5"/>
<line x1="76.5" y1="107.8" x2="89" y2="107.8" stroke-width="1.5"/>
<line x1="76.5" y1="204" x2="89" y2="204" stroke-width="1.5"/>
<line x1="76.5" y1="300.6" x2="89" y2="300.6" stroke-width="1.5"/>
<line x1="76.5" y1="397" x2="89" y2="397" stroke-width="1.5"/>
<line x1="89" y1="397" x2="89" y2="407.5" stroke-width="1.8"/>
<line x1="200" y1="397" x2="200" y2="407.5" stroke-width="1.8"/>
<line x1="311" y1="397" x2="311" y2="407.5" stroke-width="1.8"/>
<line x1="422" y1="397" x2="422" y2="407.5" stroke-width="1.8"/>
<line x1="533" y1="397" x2="533" y2="407.5" stroke-width="1.8"/>
</g>
<text x="47.44" y="14.70" class="tl">200</text>
<path class="tl" d="M54.48,111.20L52.11,111.20L52.11,102.25Q50.81,103.47 49.04,104.05L49.04,101.90Q49.97,101.60 51.06,100.75Q52.15,99.90 52.55,98.77L54.48,98.77Z"/>
<text x="57.06" y="111.20" class="tl">53</text>
<path class="tl" d="M54.98,207.30L52.61,207.30L52.61,198.35Q51.31,199.57 49.54,200.15L49.54,198.00Q50.47,197.70 51.56,196.85Q52.65,196.00 53.05,194.87L54.98,194.87Z"/>
<text x="57.56" y="207.30" class="tl">05</text>
<text x="54.26" y="303.40" class="tl">58</text>
<path class="tl" d="M61.30,400.00L58.93,400.00L58.93,391.05Q57.63,392.27 55.86,392.85L55.86,390.70Q56.79,390.40 57.88,389.55Q58.97,388.70 59.38,387.57L61.30,387.57Z"/>
<text x="63.88" y="400.00" class="tl">0</text>
<path class="tl" d="M76.51,428.60L74.14,428.60L74.14,419.65Q72.84,420.87 71.07,421.45L71.07,419.30Q72.00,419.00 73.09,418.15Q74.18,417.30 74.58,416.17L76.51,416.17Z"/>
<text x="79.09" y="428.60" class="tl">.00</text>
<path class="tl" d="M187.91,428.60L185.54,428.60L185.54,419.65Q184.24,420.87 182.47,421.45L182.47,419.30Q183.40,419.00 184.49,418.15Q185.58,417.30 185.98,416.17L187.91,416.17Z"/>
<text x="190.49" y="428.60" class="tl">.75</text>
<text x="291.76" y="428.60" class="tl">2.50</text>
<text x="402.86" y="428.60" class="tl">3.25</text>
<text x="513.76" y="428.60" class="tl">4.00</text>
<g stroke="#000" fill="none">
<line x1="89" y1="11.5" x2="89" y2="398" stroke-width="2"/>
<line x1="533" y1="11.5" x2="533" y2="398" stroke-width="2"/>
<line x1="88" y1="397" x2="534" y2="397" stroke-width="2"/>
<line x1="88" y1="11.5" x2="534" y2="11.5" stroke-width="1.6"/>
</g>
<clipPath id="c0"><rect x="347.1" y="21.3" width="27.6" height="16.4"/></clipPath>
<rect x="347.1" y="21.3" width="27.6" height="16.4" fill="#fff" stroke="none"/>
<g clip-path="url(#c0)">
<path class="cl" d="M351.68,35.00L350.32,35.00L350.32,26.32Q349.83,26.79 349.02,27.26Q348.22,27.73 347.59,27.96L347.59,26.64Q348.73,26.11 349.58,25.34Q350.44,24.58 350.80,23.86L351.68,23.86Z"/>
<text x="359.40" y="35.00" text-anchor="middle" class="cl">2</text>
<text x="368.55" y="35.00" text-anchor="middle" class="cl">0</text>
</g>
<rect x="347.1" y="21.3" width="27.6" height="16.4" fill="none" stroke="#000" stroke-width="2"/>
<clipPath id="c1"><rect x="342.6" y="164.2" width="29.2" height="14.2"/></clipPath>
<rect x="342.6" y="164.2" width="29.2" height="14.2" fill="#fff" stroke="none"/>
<g clip-path="url(#c1)">
<path class="cl" d="M348.58,178.20L347.22,178.20L347.22,169.52Q346.73,169.99 345.92,170.46Q345.12,170.93 344.49,171.16L344.49,169.84Q345.63,169.31 346.48,168.54Q347.34,167.78 347.70,167.06L348.58,167.06Z"/>
<text x="356.40" y="178.20" text-anchor="middle" class="cl">3</text>
<text x="365.80" y="178.20" text-anchor="middle" class="cl">0</text>
</g>
<rect x="342.6" y="164.2" width="29.2" height="14.2" fill="none" stroke="#000" stroke-width="2"/>
<clipPath id="c2"><rect x="321.2" y="312.1" width="29.6" height="20.3"/></clipPath>
<rect x="321.2" y="312.1" width="29.6" height="20.3" fill="#fff" stroke="none"/>
<g clip-path="url(#c2)">
<path class="cl" d="M326.78,329.20L325.42,329.20L325.42,320.52Q324.93,320.99 324.12,321.46Q323.32,321.93 322.69,322.16L322.69,320.84Q323.83,320.31 324.68,319.54Q325.54,318.78 325.90,318.06L326.78,318.06Z"/>
<text x="334.80" y="329.20" text-anchor="middle" class="cl">4</text>
<text x="344.00" y="329.20" text-anchor="middle" class="cl">0</text>
</g>
<rect x="321.2" y="312.1" width="29.6" height="20.3" fill="none" stroke="#000" stroke-width="2"/>
<clipPath id="c3"><rect x="119.6" y="156.9" width="24.6" height="16.6"/></clipPath>
<rect x="119.6" y="156.9" width="24.6" height="16.6" fill="#fff" stroke="none"/>
<g clip-path="url(#c3)">
<path class="cl" d="M125.58,172.30L124.22,172.30L124.22,163.62Q123.73,164.09 122.92,164.56Q122.12,165.03 121.49,165.26L121.49,163.94Q122.63,163.41 123.48,162.64Q124.34,161.88 124.70,161.16L125.58,161.16Z"/>
<text x="132.00" y="172.30" text-anchor="middle" class="cl">7</text>
<text x="141.60" y="172.30" text-anchor="middle" class="cl">0</text>
</g>
<rect x="119.6" y="156.9" width="24.6" height="16.6" fill="none" stroke="#000" stroke-width="2"/>
<clipPath id="c4"><rect x="94.9" y="192.4" width="24.1" height="14.2"/></clipPath>
<rect x="94.9" y="192.4" width="24.1" height="14.2" fill="#fff" stroke="none"/>
<g clip-path="url(#c4)">
<path class="cl" d="M98.48,205.60L97.12,205.60L97.12,196.92Q96.63,197.39 95.82,197.86Q95.02,198.33 94.39,198.56L94.39,197.24Q95.53,196.71 96.38,195.94Q97.24,195.18 97.60,194.46L98.48,194.46Z"/>
<text x="105.20" y="205.60" text-anchor="middle" class="cl">8</text>
<text x="114.40" y="205.60" text-anchor="middle" class="cl">0</text>
</g>
<rect x="94.9" y="192.4" width="24.1" height="14.2" fill="none" stroke="#000" stroke-width="2"/>
<clipPath id="c5"><rect x="150.5" y="192.2" width="27.1" height="14.4"/></clipPath>
<rect x="150.5" y="192.2" width="27.1" height="14.4" fill="#fff" stroke="none"/>
<g clip-path="url(#c5)">
<path class="cl" d="M155.98,206.10L154.62,206.10L154.62,197.42Q154.13,197.89 153.32,198.36Q152.52,198.83 151.89,199.06L151.89,197.74Q153.03,197.21 153.88,196.44Q154.74,195.68 155.10,194.96L155.98,194.96Z"/>
<text x="163.90" y="206.10" text-anchor="middle" class="cl">6</text>
<text x="172.70" y="206.10" text-anchor="middle" class="cl">0</text>
</g>
<rect x="150.5" y="192.2" width="27.1" height="14.4" fill="none" stroke="#000" stroke-width="2"/>
<clipPath id="c6"><rect x="186.9" y="202.7" width="27.5" height="14.1"/></clipPath>
<rect x="186.9" y="202.7" width="27.5" height="14.1" fill="#fff" stroke="none"/>
<g clip-path="url(#c6)">
<path class="cl" d="M192.68,214.60L191.32,214.60L191.32,205.92Q190.83,206.39 190.02,206.86Q189.22,207.33 188.59,207.56L188.59,206.24Q189.73,205.71 190.58,204.94Q191.44,204.18 191.80,203.46L192.68,203.46Z"/>
<text x="200.50" y="214.60" text-anchor="middle" class="cl">5</text>
<text x="209.50" y="214.60" text-anchor="middle" class="cl">0</text>
</g>
<rect x="186.9" y="202.7" width="27.5" height="14.1" fill="none" stroke="#000" stroke-width="2"/>
<clipPath id="c7"><rect x="454.5" y="221.6" width="30.3" height="19.1"/></clipPath>
<rect x="454.5" y="221.6" width="30.3" height="19.1" fill="#fff" stroke="none"/>
<g clip-path="url(#c7)">
<path class="cl" d="M461.18,237.80L459.82,237.80L459.82,229.12Q459.33,229.59 458.52,230.06Q457.72,230.53 457.09,230.76L457.09,229.44Q458.23,228.91 459.08,228.14Q459.94,227.38 460.30,226.66L461.18,226.66Z"/>
<text x="468.30" y="237.80" text-anchor="middle" class="cl">5</text>
<text x="477.70" y="237.80" text-anchor="middle" class="cl">0</text>
</g>
<rect x="454.5" y="221.6" width="30.3" height="19.1" fill="none" stroke="#000" stroke-width="2"/>
<clipPath id="c8"><rect x="476.2" y="265.2" width="29.4" height="18.2"/></clipPath>
<rect x="476.2" y="265.2" width="29.4" height="18.2" fill="#fff" stroke="none"/>
<g clip-path="url(#c8)">
<path class="cl" d="M482.38,280.70L481.02,280.70L481.02,272.02Q480.53,272.49 479.72,272.96Q478.92,273.43 478.29,273.66L478.29,272.34Q479.43,271.81 480.28,271.04Q481.14,270.28 481.50,269.56L482.38,269.56Z"/>
<text x="490.40" y="280.70" text-anchor="middle" class="cl">6</text>
<text x="499.80" y="280.70" text-anchor="middle" class="cl">0</text>
</g>
<rect x="476.2" y="265.2" width="29.4" height="18.2" fill="none" stroke="#000" stroke-width="2"/>
<clipPath id="c9"><rect x="496.1" y="303.9" width="25.5" height="17.1"/></clipPath>
<rect x="496.1" y="303.9" width="25.5" height="17.1" fill="#fff" stroke="none"/>
<g clip-path="url(#c9)">
<path class="cl" d="M501.78,319.60L500.42,319.60L500.42,310.92Q499.93,311.39 499.12,311.86Q498.32,312.33 497.69,312.56L497.69,311.24Q498.83,310.71 499.68,309.94Q500.54,309.18 500.90,308.46L501.78,308.46Z"/>
<text x="508.60" y="319.60" text-anchor="middle" class="cl">7</text>
<text x="518.00" y="319.60" text-anchor="middle" class="cl">0</text>
</g>
<rect x="496.1" y="303.9" width="25.5" height="17.1" fill="none" stroke="#000" stroke-width="2"/>
<clipPath id="c10"><rect x="507.4" y="356.6" width="25.6" height="18.2"/></clipPath>
<rect x="507.4" y="356.6" width="25.6" height="18.2" fill="#fff" stroke="none"/>
<g clip-path="url(#c10)">
<path class="cl" d="M513.88,372.40L512.52,372.40L512.52,363.72Q512.03,364.19 511.22,364.66Q510.42,365.13 509.79,365.36L509.79,364.04Q510.93,363.51 511.78,362.74Q512.64,361.98 513.00,361.26L513.88,361.26Z"/>
<text x="521.50" y="372.40" text-anchor="middle" class="cl">8</text>
<text x="530.70" y="372.40" text-anchor="middle" class="cl">0</text>
</g>
<rect x="507.4" y="356.6" width="25.6" height="18.2" fill="none" stroke="#000" stroke-width="2"/>
<text x="310.8" y="467.5" text-anchor="middle" class="ti">Electric field strength (kV/cm)</text>
<text transform="translate(19.5,193.6) rotate(-90)" x="0" y="0" text-anchor="middle" class="ti">Pulse frequency (Hz)</text>
</svg>
</body></html>
